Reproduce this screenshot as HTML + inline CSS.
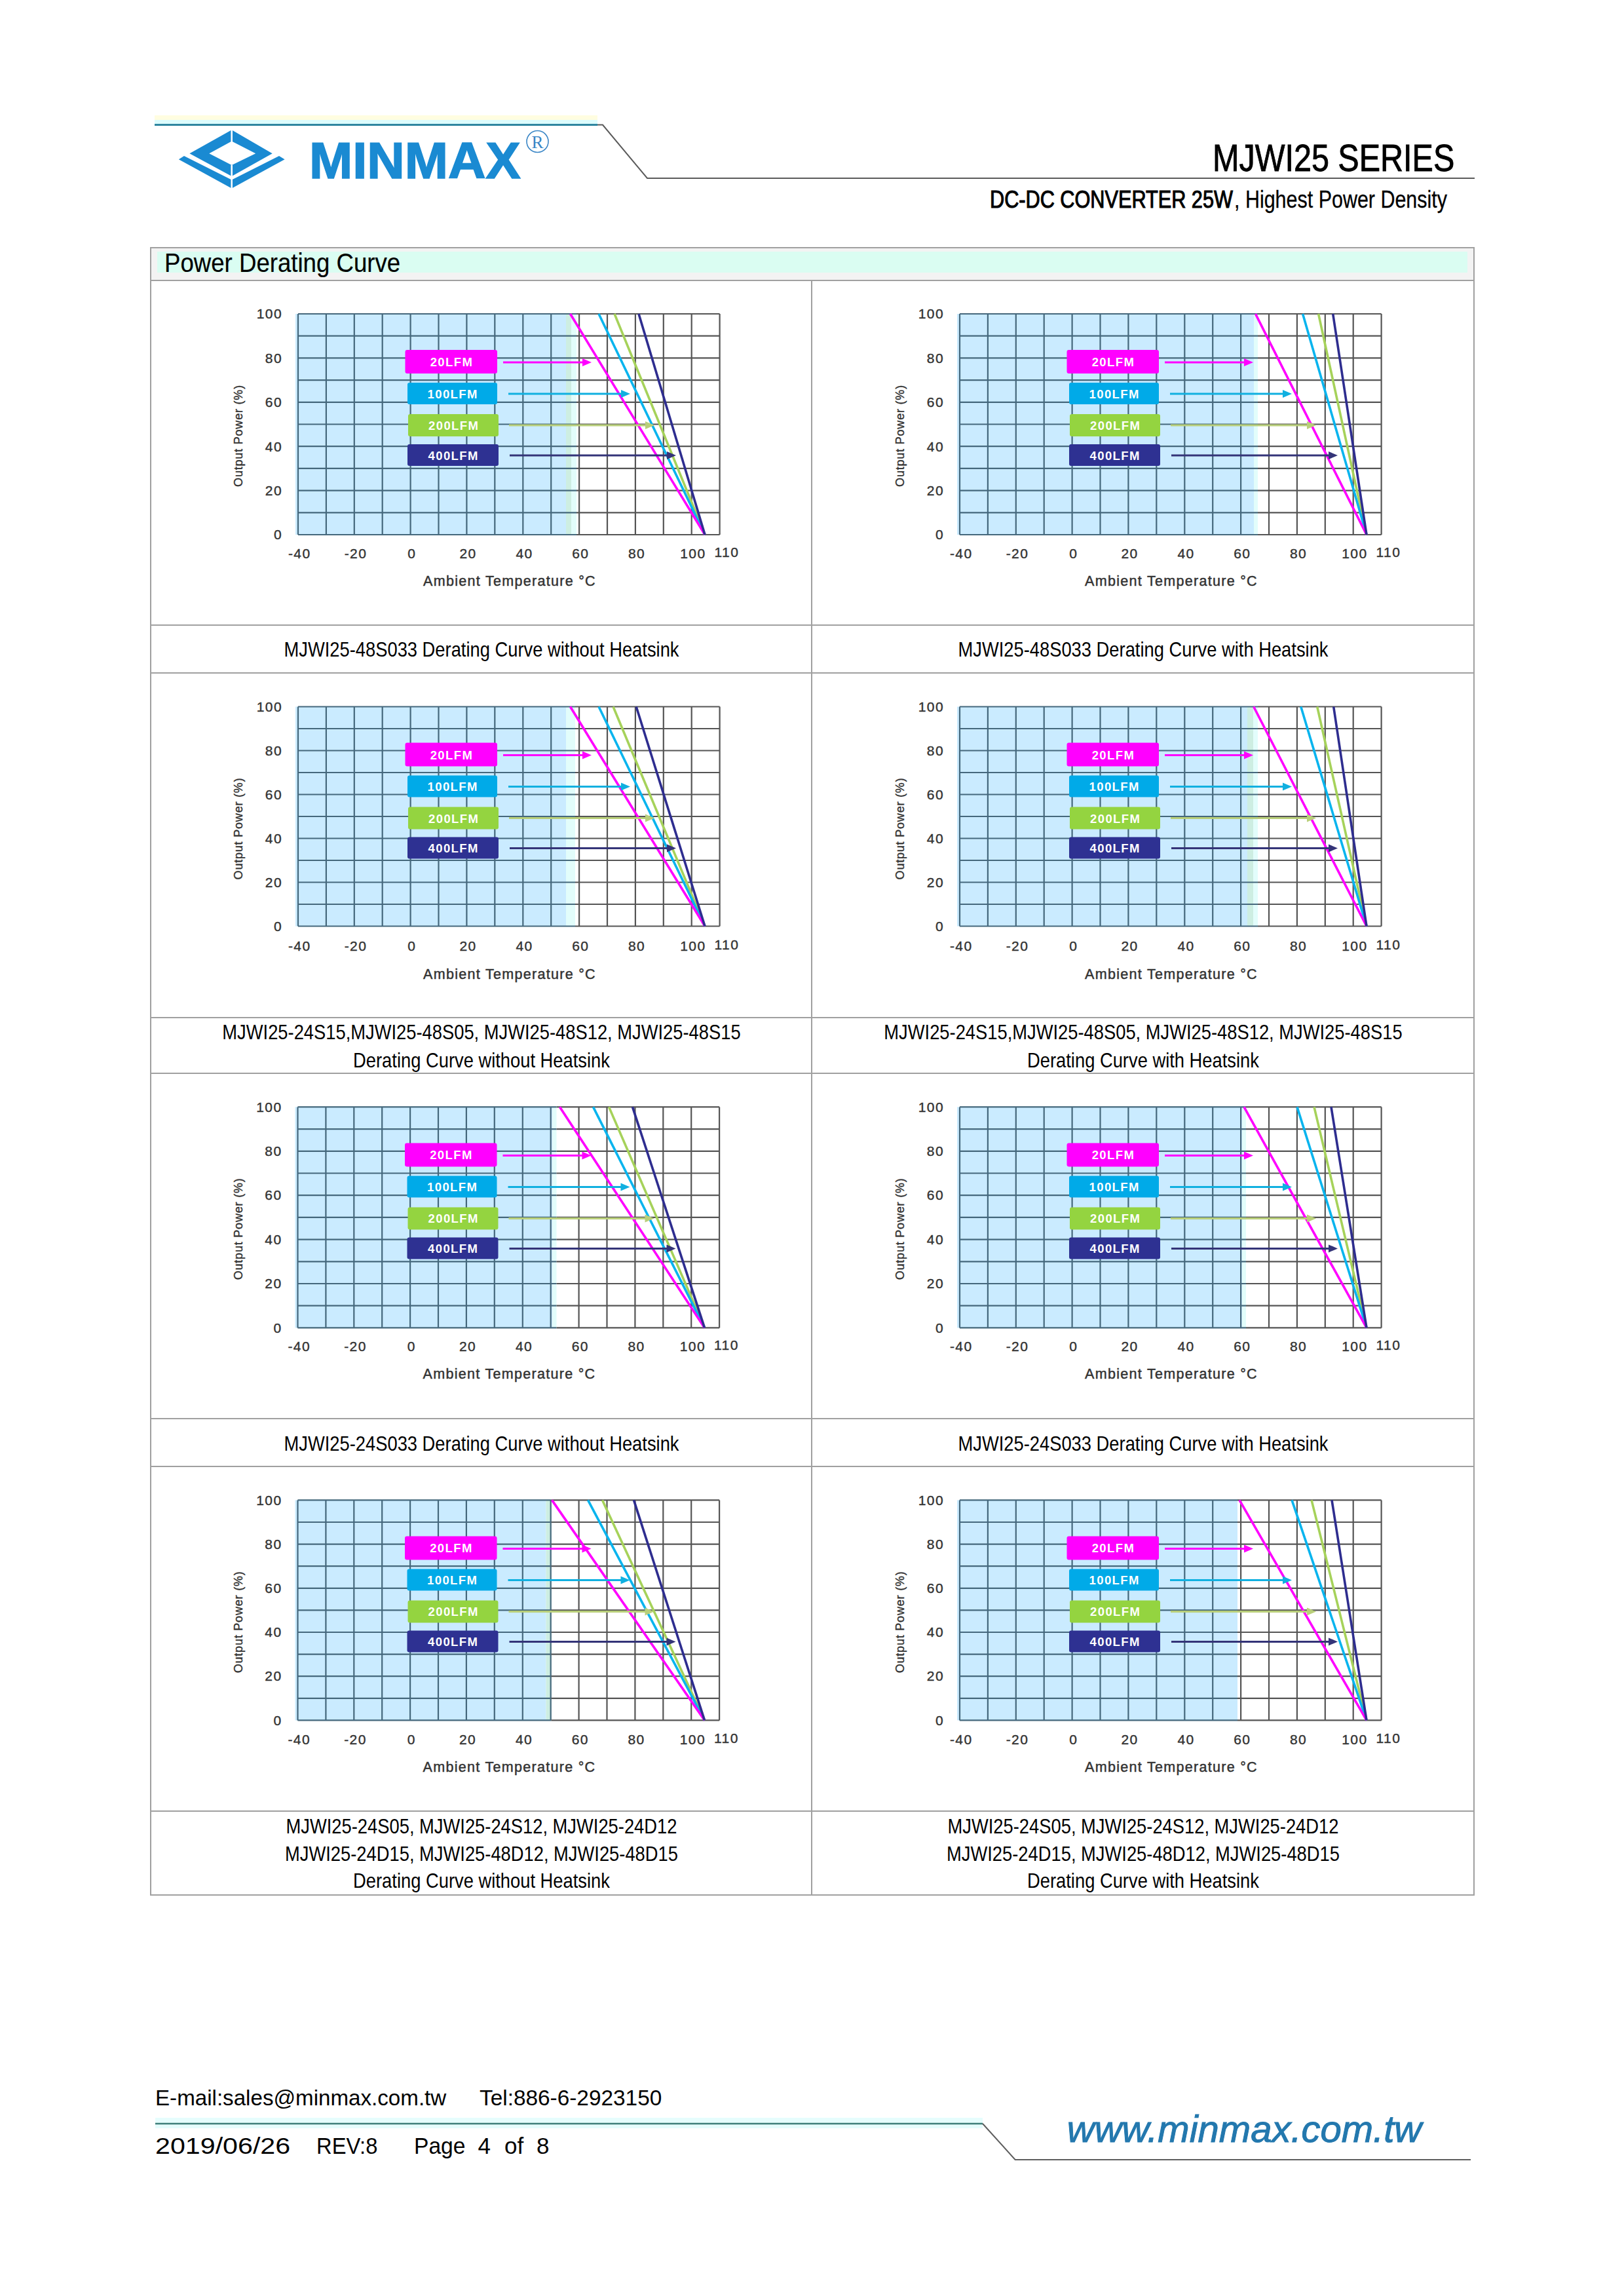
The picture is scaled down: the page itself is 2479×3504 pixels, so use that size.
<!DOCTYPE html>
<html><head><meta charset="utf-8"><style>
html,body{margin:0;padding:0;background:#fff;}
body{width:2479px;height:3504px;position:relative;overflow:hidden;font-family:"Liberation Sans",sans-serif;}
svg{position:absolute;left:0;top:0;}
</style></head><body>

<svg width="2479" height="3504" viewBox="0 0 2479 3504" style="position:absolute;left:0;top:0">
<rect x="236" y="176" width="676" height="7" fill="#fffde0"/>
<rect x="236" y="183" width="676" height="6" fill="#dcfcfd"/>
<line x1="236" y1="190.5" x2="912" y2="190.5" stroke="#2f86a0" stroke-width="3"/>
<polyline points="912,190.5 920,190.5 988,272 2251,272" fill="none" stroke="#5a5a5a" stroke-width="2"/>
<path fill-rule="evenodd" fill="#1a8ad2" d="M353.7,198.3 L415.7,234.3 L353.7,269 L289.4,234.3 Z M353.7,215.5 L319.3,234.3 L353.7,252 L390.2,234.3 Z"/>
<path fill="#1a8ad2" d="M272.8,243.2 L281,238 L353.7,274.5 L426,238 L434.6,243.2 L353.7,287.5 Z"/>
<line x1="353.7" y1="196" x2="353.7" y2="216" stroke="#fff" stroke-width="2.5"/>
<line x1="353.7" y1="252" x2="353.7" y2="290" stroke="#fff" stroke-width="2.5"/>
<circle cx="820.5" cy="216" r="16.5" fill="none" stroke="#3a86c6" stroke-width="1.6"/>
<text x="820.5" y="226" font-family="Liberation Serif" font-size="27" fill="#3a86c6" text-anchor="middle">R</text>
<rect x="229" y="377" width="2022" height="2" fill="#a0a0a0"/>
<rect x="229" y="427" width="2022" height="2" fill="#a0a0a0"/>
<rect x="229" y="953" width="2022" height="2" fill="#a0a0a0"/>
<rect x="229" y="1026" width="2022" height="2" fill="#a0a0a0"/>
<rect x="229" y="1552" width="2022" height="2" fill="#a0a0a0"/>
<rect x="229" y="1637" width="2022" height="2" fill="#a0a0a0"/>
<rect x="229" y="2164" width="2022" height="2" fill="#a0a0a0"/>
<rect x="229" y="2237" width="2022" height="2" fill="#a0a0a0"/>
<rect x="229" y="2763" width="2022" height="2" fill="#a0a0a0"/>
<rect x="229" y="2891" width="2022" height="2" fill="#a0a0a0"/>
<rect x="229" y="377" width="2" height="2516" fill="#a0a0a0"/>
<rect x="2249" y="377" width="2" height="2516" fill="#a0a0a0"/>
<rect x="1238" y="427" width="2" height="2466" fill="#a0a0a0"/>
<rect x="231" y="379" width="2018" height="48" fill="#f3f3f3"/>
<rect x="240" y="384" width="2000" height="32" fill="#dafdf2"/>
<rect x="237" y="3232" width="1263" height="16" fill="#e6fdfd"/>
<line x1="237" y1="3241" x2="1500" y2="3241" stroke="#3f7f7a" stroke-width="2.5"/>
<polyline points="1500,3241 1549.6,3296 2245,3296" fill="none" stroke="#5e5e5e" stroke-width="2"/>
<g transform="translate(455.0,479.0)">
<rect x="-4" y="0" width="413" height="337.0" fill="#caebff"/>
<rect x="409" y="0" width="8" height="337.0" fill="#cdeee2"/>
<rect x="417" y="0" width="8" height="337.0" fill="#e2fdfb"/>
<line x1="0.0" y1="0" x2="0.0" y2="337.0" stroke="#45687c" stroke-width="2.2"/>
<line x1="42.9" y1="0" x2="42.9" y2="337.0" stroke="#45687c" stroke-width="2.2"/>
<line x1="85.8" y1="0" x2="85.8" y2="337.0" stroke="#45687c" stroke-width="2.2"/>
<line x1="128.7" y1="0" x2="128.7" y2="337.0" stroke="#45687c" stroke-width="2.2"/>
<line x1="171.6" y1="0" x2="171.6" y2="337.0" stroke="#45687c" stroke-width="2.2"/>
<line x1="214.5" y1="0" x2="214.5" y2="337.0" stroke="#45687c" stroke-width="2.2"/>
<line x1="257.4" y1="0" x2="257.4" y2="337.0" stroke="#45687c" stroke-width="2.2"/>
<line x1="300.3" y1="0" x2="300.3" y2="337.0" stroke="#45687c" stroke-width="2.2"/>
<line x1="343.3" y1="0" x2="343.3" y2="337.0" stroke="#45687c" stroke-width="2.2"/>
<line x1="386.2" y1="0" x2="386.2" y2="337.0" stroke="#45687c" stroke-width="2.2"/>
<line x1="429.1" y1="0" x2="429.1" y2="337.0" stroke="#555" stroke-width="2.2"/>
<line x1="472.0" y1="0" x2="472.0" y2="337.0" stroke="#555" stroke-width="2.2"/>
<line x1="514.9" y1="0" x2="514.9" y2="337.0" stroke="#555" stroke-width="2.2"/>
<line x1="557.8" y1="0" x2="557.8" y2="337.0" stroke="#555" stroke-width="2.2"/>
<line x1="600.7" y1="0" x2="600.7" y2="337.0" stroke="#555" stroke-width="2.2"/>
<line x1="643.6" y1="0" x2="643.6" y2="337.0" stroke="#555" stroke-width="2.2"/>
<line x1="0" y1="0.0" x2="425" y2="0.0" stroke="#45687c" stroke-width="2.2"/>
<line x1="425" y1="0.0" x2="643.6" y2="0.0" stroke="#555" stroke-width="2.2"/>
<line x1="0" y1="33.7" x2="425" y2="33.7" stroke="#45687c" stroke-width="2.2"/>
<line x1="425" y1="33.7" x2="643.6" y2="33.7" stroke="#555" stroke-width="2.2"/>
<line x1="0" y1="67.4" x2="425" y2="67.4" stroke="#45687c" stroke-width="2.2"/>
<line x1="425" y1="67.4" x2="643.6" y2="67.4" stroke="#555" stroke-width="2.2"/>
<line x1="0" y1="101.1" x2="425" y2="101.1" stroke="#45687c" stroke-width="2.2"/>
<line x1="425" y1="101.1" x2="643.6" y2="101.1" stroke="#555" stroke-width="2.2"/>
<line x1="0" y1="134.8" x2="425" y2="134.8" stroke="#45687c" stroke-width="2.2"/>
<line x1="425" y1="134.8" x2="643.6" y2="134.8" stroke="#555" stroke-width="2.2"/>
<line x1="0" y1="168.5" x2="425" y2="168.5" stroke="#45687c" stroke-width="2.2"/>
<line x1="425" y1="168.5" x2="643.6" y2="168.5" stroke="#555" stroke-width="2.2"/>
<line x1="0" y1="202.2" x2="425" y2="202.2" stroke="#45687c" stroke-width="2.2"/>
<line x1="425" y1="202.2" x2="643.6" y2="202.2" stroke="#555" stroke-width="2.2"/>
<line x1="0" y1="235.9" x2="425" y2="235.9" stroke="#45687c" stroke-width="2.2"/>
<line x1="425" y1="235.9" x2="643.6" y2="235.9" stroke="#555" stroke-width="2.2"/>
<line x1="0" y1="269.6" x2="425" y2="269.6" stroke="#45687c" stroke-width="2.2"/>
<line x1="425" y1="269.6" x2="643.6" y2="269.6" stroke="#555" stroke-width="2.2"/>
<line x1="0" y1="303.3" x2="425" y2="303.3" stroke="#45687c" stroke-width="2.2"/>
<line x1="425" y1="303.3" x2="643.6" y2="303.3" stroke="#555" stroke-width="2.2"/>
<line x1="0" y1="337.0" x2="425" y2="337.0" stroke="#45687c" stroke-width="2.2"/>
<line x1="425" y1="337.0" x2="643.6" y2="337.0" stroke="#555" stroke-width="2.2"/>
<line x1="483" y1="0" x2="621" y2="337.0" stroke="#a6d25a" stroke-width="3.6"/>
<line x1="459" y1="0" x2="621" y2="337.0" stroke="#08b4ee" stroke-width="3.6"/>
<line x1="415.5" y1="0" x2="621" y2="337.0" stroke="#ff00ff" stroke-width="3.6"/>
<line x1="520" y1="0" x2="621" y2="337.0" stroke="#2e2d8f" stroke-width="3.6"/>
<rect x="163.5" y="55" width="140.5" height="36" rx="3" fill="#ff00ff"/>
<text x="234.45" y="80.0" font-family="Liberation Sans" font-weight="bold" font-size="18.5" fill="#fff" text-anchor="middle" letter-spacing="1.4">20LFM</text>
<line x1="313" y1="74" x2="438" y2="74" stroke="#ff00ff" stroke-width="3"/>
<path d="M448,74 L434,68 L434,80 Z" fill="#ff00ff"/>
<rect x="167" y="105" width="137" height="33" rx="3" fill="#00aae8"/>
<text x="236.2" y="128.5" font-family="Liberation Sans" font-weight="bold" font-size="18.5" fill="#fff" text-anchor="middle" letter-spacing="1.4">100LFM</text>
<line x1="321" y1="122" x2="497" y2="122" stroke="#10b0e0" stroke-width="3"/>
<path d="M507,122 L493,116 L493,128 Z" fill="#10b0e0"/>
<rect x="168" y="153" width="138" height="34" rx="3" fill="#94d440"/>
<text x="237.7" y="177.0" font-family="Liberation Sans" font-weight="bold" font-size="18.5" fill="#fff" text-anchor="middle" letter-spacing="1.4">200LFM</text>
<line x1="322" y1="170" x2="534" y2="170" stroke="#b9cf7a" stroke-width="3"/>
<path d="M544,170 L530,164 L530,176 Z" fill="#b9cf7a"/>
<rect x="167" y="199" width="139" height="33" rx="3" fill="#2e3192"/>
<text x="237.2" y="222.5" font-family="Liberation Sans" font-weight="bold" font-size="18.5" fill="#fff" text-anchor="middle" letter-spacing="1.4">400LFM</text>
<line x1="323" y1="216" x2="567" y2="216" stroke="#343478" stroke-width="3"/>
<path d="M577,216 L563,210 L563,222 Z" fill="#343478"/>
<text x="-24" y="344.3" font-family="Liberation Sans" font-size="21" fill="#333" stroke="#333" stroke-width="0.4" text-anchor="end" letter-spacing="1.4">0</text>
<text x="-24" y="276.9" font-family="Liberation Sans" font-size="21" fill="#333" stroke="#333" stroke-width="0.4" text-anchor="end" letter-spacing="1.4">20</text>
<text x="-24" y="209.5" font-family="Liberation Sans" font-size="21" fill="#333" stroke="#333" stroke-width="0.4" text-anchor="end" letter-spacing="1.4">40</text>
<text x="-24" y="142.1" font-family="Liberation Sans" font-size="21" fill="#333" stroke="#333" stroke-width="0.4" text-anchor="end" letter-spacing="1.4">60</text>
<text x="-24" y="74.7" font-family="Liberation Sans" font-size="21" fill="#333" stroke="#333" stroke-width="0.4" text-anchor="end" letter-spacing="1.4">80</text>
<text x="-24" y="7.3" font-family="Liberation Sans" font-size="21" fill="#333" stroke="#333" stroke-width="0.4" text-anchor="end" letter-spacing="1.4">100</text>
<text x="2.2" y="372.5" font-family="Liberation Sans" font-size="21" fill="#333" stroke="#333" stroke-width="0.4" text-anchor="middle" letter-spacing="1.4">-40</text>
<text x="88.0" y="372.5" font-family="Liberation Sans" font-size="21" fill="#333" stroke="#333" stroke-width="0.4" text-anchor="middle" letter-spacing="1.4">-20</text>
<text x="173.8" y="372.5" font-family="Liberation Sans" font-size="21" fill="#333" stroke="#333" stroke-width="0.4" text-anchor="middle" letter-spacing="1.4">0</text>
<text x="259.6" y="372.5" font-family="Liberation Sans" font-size="21" fill="#333" stroke="#333" stroke-width="0.4" text-anchor="middle" letter-spacing="1.4">20</text>
<text x="345.5" y="372.5" font-family="Liberation Sans" font-size="21" fill="#333" stroke="#333" stroke-width="0.4" text-anchor="middle" letter-spacing="1.4">40</text>
<text x="431.3" y="372.5" font-family="Liberation Sans" font-size="21" fill="#333" stroke="#333" stroke-width="0.4" text-anchor="middle" letter-spacing="1.4">60</text>
<text x="517.1" y="372.5" font-family="Liberation Sans" font-size="21" fill="#333" stroke="#333" stroke-width="0.4" text-anchor="middle" letter-spacing="1.4">80</text>
<text x="602.9" y="372.5" font-family="Liberation Sans" font-size="21" fill="#333" stroke="#333" stroke-width="0.4" text-anchor="middle" letter-spacing="1.4">100</text>
<text x="654.4" y="370.5" font-family="Liberation Sans" font-size="21" fill="#333" stroke="#333" stroke-width="0.4" text-anchor="middle" letter-spacing="1.4">110</text>
<text x="323" y="415.0" font-family="Liberation Sans" font-size="21.5" fill="#333" stroke="#333" stroke-width="0.5" text-anchor="middle" letter-spacing="1.3">Ambient Temperature °C</text>
<text transform="translate(-85,186) rotate(-90)" x="0" y="0" font-family="Liberation Sans" font-size="18" fill="#333" stroke="#333" stroke-width="0.4" text-anchor="middle" letter-spacing="0.8">Output Power (%)</text>
</g>
<g transform="translate(1465.0,479.0)">
<rect x="-4" y="0" width="453" height="337.0" fill="#caebff"/>
<rect x="449" y="0" width="6" height="337.0" fill="#e2fdfb"/>
<line x1="0.0" y1="0" x2="0.0" y2="337.0" stroke="#45687c" stroke-width="2.2"/>
<line x1="42.9" y1="0" x2="42.9" y2="337.0" stroke="#45687c" stroke-width="2.2"/>
<line x1="85.8" y1="0" x2="85.8" y2="337.0" stroke="#45687c" stroke-width="2.2"/>
<line x1="128.7" y1="0" x2="128.7" y2="337.0" stroke="#45687c" stroke-width="2.2"/>
<line x1="171.6" y1="0" x2="171.6" y2="337.0" stroke="#45687c" stroke-width="2.2"/>
<line x1="214.5" y1="0" x2="214.5" y2="337.0" stroke="#45687c" stroke-width="2.2"/>
<line x1="257.4" y1="0" x2="257.4" y2="337.0" stroke="#45687c" stroke-width="2.2"/>
<line x1="300.3" y1="0" x2="300.3" y2="337.0" stroke="#45687c" stroke-width="2.2"/>
<line x1="343.3" y1="0" x2="343.3" y2="337.0" stroke="#45687c" stroke-width="2.2"/>
<line x1="386.2" y1="0" x2="386.2" y2="337.0" stroke="#45687c" stroke-width="2.2"/>
<line x1="429.1" y1="0" x2="429.1" y2="337.0" stroke="#45687c" stroke-width="2.2"/>
<line x1="472.0" y1="0" x2="472.0" y2="337.0" stroke="#555" stroke-width="2.2"/>
<line x1="514.9" y1="0" x2="514.9" y2="337.0" stroke="#555" stroke-width="2.2"/>
<line x1="557.8" y1="0" x2="557.8" y2="337.0" stroke="#555" stroke-width="2.2"/>
<line x1="600.7" y1="0" x2="600.7" y2="337.0" stroke="#555" stroke-width="2.2"/>
<line x1="643.6" y1="0" x2="643.6" y2="337.0" stroke="#555" stroke-width="2.2"/>
<line x1="0" y1="0.0" x2="455" y2="0.0" stroke="#45687c" stroke-width="2.2"/>
<line x1="455" y1="0.0" x2="643.6" y2="0.0" stroke="#555" stroke-width="2.2"/>
<line x1="0" y1="33.7" x2="455" y2="33.7" stroke="#45687c" stroke-width="2.2"/>
<line x1="455" y1="33.7" x2="643.6" y2="33.7" stroke="#555" stroke-width="2.2"/>
<line x1="0" y1="67.4" x2="455" y2="67.4" stroke="#45687c" stroke-width="2.2"/>
<line x1="455" y1="67.4" x2="643.6" y2="67.4" stroke="#555" stroke-width="2.2"/>
<line x1="0" y1="101.1" x2="455" y2="101.1" stroke="#45687c" stroke-width="2.2"/>
<line x1="455" y1="101.1" x2="643.6" y2="101.1" stroke="#555" stroke-width="2.2"/>
<line x1="0" y1="134.8" x2="455" y2="134.8" stroke="#45687c" stroke-width="2.2"/>
<line x1="455" y1="134.8" x2="643.6" y2="134.8" stroke="#555" stroke-width="2.2"/>
<line x1="0" y1="168.5" x2="455" y2="168.5" stroke="#45687c" stroke-width="2.2"/>
<line x1="455" y1="168.5" x2="643.6" y2="168.5" stroke="#555" stroke-width="2.2"/>
<line x1="0" y1="202.2" x2="455" y2="202.2" stroke="#45687c" stroke-width="2.2"/>
<line x1="455" y1="202.2" x2="643.6" y2="202.2" stroke="#555" stroke-width="2.2"/>
<line x1="0" y1="235.9" x2="455" y2="235.9" stroke="#45687c" stroke-width="2.2"/>
<line x1="455" y1="235.9" x2="643.6" y2="235.9" stroke="#555" stroke-width="2.2"/>
<line x1="0" y1="269.6" x2="455" y2="269.6" stroke="#45687c" stroke-width="2.2"/>
<line x1="455" y1="269.6" x2="643.6" y2="269.6" stroke="#555" stroke-width="2.2"/>
<line x1="0" y1="303.3" x2="455" y2="303.3" stroke="#45687c" stroke-width="2.2"/>
<line x1="455" y1="303.3" x2="643.6" y2="303.3" stroke="#555" stroke-width="2.2"/>
<line x1="0" y1="337.0" x2="455" y2="337.0" stroke="#45687c" stroke-width="2.2"/>
<line x1="455" y1="337.0" x2="643.6" y2="337.0" stroke="#555" stroke-width="2.2"/>
<line x1="547.6" y1="0" x2="621" y2="337.0" stroke="#a6d25a" stroke-width="3.6"/>
<line x1="523.6" y1="0" x2="621" y2="337.0" stroke="#08b4ee" stroke-width="3.6"/>
<line x1="451.5" y1="0" x2="621" y2="337.0" stroke="#ff00ff" stroke-width="3.6"/>
<line x1="569.7" y1="0" x2="621" y2="337.0" stroke="#2e2d8f" stroke-width="3.6"/>
<rect x="163.5" y="55" width="140.5" height="36" rx="3" fill="#ff00ff"/>
<text x="234.45" y="80.0" font-family="Liberation Sans" font-weight="bold" font-size="18.5" fill="#fff" text-anchor="middle" letter-spacing="1.4">20LFM</text>
<line x1="313" y1="74" x2="438" y2="74" stroke="#ff00ff" stroke-width="3"/>
<path d="M448,74 L434,68 L434,80 Z" fill="#ff00ff"/>
<rect x="167" y="105" width="137" height="33" rx="3" fill="#00aae8"/>
<text x="236.2" y="128.5" font-family="Liberation Sans" font-weight="bold" font-size="18.5" fill="#fff" text-anchor="middle" letter-spacing="1.4">100LFM</text>
<line x1="321" y1="122" x2="497" y2="122" stroke="#10b0e0" stroke-width="3"/>
<path d="M507,122 L493,116 L493,128 Z" fill="#10b0e0"/>
<rect x="168" y="153" width="138" height="34" rx="3" fill="#94d440"/>
<text x="237.7" y="177.0" font-family="Liberation Sans" font-weight="bold" font-size="18.5" fill="#fff" text-anchor="middle" letter-spacing="1.4">200LFM</text>
<line x1="322" y1="170" x2="534" y2="170" stroke="#b9cf7a" stroke-width="3"/>
<path d="M544,170 L530,164 L530,176 Z" fill="#b9cf7a"/>
<rect x="167" y="199" width="139" height="33" rx="3" fill="#2e3192"/>
<text x="237.2" y="222.5" font-family="Liberation Sans" font-weight="bold" font-size="18.5" fill="#fff" text-anchor="middle" letter-spacing="1.4">400LFM</text>
<line x1="323" y1="216" x2="567" y2="216" stroke="#343478" stroke-width="3"/>
<path d="M577,216 L563,210 L563,222 Z" fill="#343478"/>
<text x="-24" y="344.3" font-family="Liberation Sans" font-size="21" fill="#333" stroke="#333" stroke-width="0.4" text-anchor="end" letter-spacing="1.4">0</text>
<text x="-24" y="276.9" font-family="Liberation Sans" font-size="21" fill="#333" stroke="#333" stroke-width="0.4" text-anchor="end" letter-spacing="1.4">20</text>
<text x="-24" y="209.5" font-family="Liberation Sans" font-size="21" fill="#333" stroke="#333" stroke-width="0.4" text-anchor="end" letter-spacing="1.4">40</text>
<text x="-24" y="142.1" font-family="Liberation Sans" font-size="21" fill="#333" stroke="#333" stroke-width="0.4" text-anchor="end" letter-spacing="1.4">60</text>
<text x="-24" y="74.7" font-family="Liberation Sans" font-size="21" fill="#333" stroke="#333" stroke-width="0.4" text-anchor="end" letter-spacing="1.4">80</text>
<text x="-24" y="7.3" font-family="Liberation Sans" font-size="21" fill="#333" stroke="#333" stroke-width="0.4" text-anchor="end" letter-spacing="1.4">100</text>
<text x="2.2" y="372.5" font-family="Liberation Sans" font-size="21" fill="#333" stroke="#333" stroke-width="0.4" text-anchor="middle" letter-spacing="1.4">-40</text>
<text x="88.0" y="372.5" font-family="Liberation Sans" font-size="21" fill="#333" stroke="#333" stroke-width="0.4" text-anchor="middle" letter-spacing="1.4">-20</text>
<text x="173.8" y="372.5" font-family="Liberation Sans" font-size="21" fill="#333" stroke="#333" stroke-width="0.4" text-anchor="middle" letter-spacing="1.4">0</text>
<text x="259.6" y="372.5" font-family="Liberation Sans" font-size="21" fill="#333" stroke="#333" stroke-width="0.4" text-anchor="middle" letter-spacing="1.4">20</text>
<text x="345.5" y="372.5" font-family="Liberation Sans" font-size="21" fill="#333" stroke="#333" stroke-width="0.4" text-anchor="middle" letter-spacing="1.4">40</text>
<text x="431.3" y="372.5" font-family="Liberation Sans" font-size="21" fill="#333" stroke="#333" stroke-width="0.4" text-anchor="middle" letter-spacing="1.4">60</text>
<text x="517.1" y="372.5" font-family="Liberation Sans" font-size="21" fill="#333" stroke="#333" stroke-width="0.4" text-anchor="middle" letter-spacing="1.4">80</text>
<text x="602.9" y="372.5" font-family="Liberation Sans" font-size="21" fill="#333" stroke="#333" stroke-width="0.4" text-anchor="middle" letter-spacing="1.4">100</text>
<text x="654.4" y="370.5" font-family="Liberation Sans" font-size="21" fill="#333" stroke="#333" stroke-width="0.4" text-anchor="middle" letter-spacing="1.4">110</text>
<text x="323" y="415.0" font-family="Liberation Sans" font-size="21.5" fill="#333" stroke="#333" stroke-width="0.5" text-anchor="middle" letter-spacing="1.3">Ambient Temperature °C</text>
<text transform="translate(-85,186) rotate(-90)" x="0" y="0" font-family="Liberation Sans" font-size="18" fill="#333" stroke="#333" stroke-width="0.4" text-anchor="middle" letter-spacing="0.8">Output Power (%)</text>
</g>
<g transform="translate(455.0,1078.5)">
<rect x="-4" y="0" width="413" height="335.0" fill="#caebff"/>
<rect x="409" y="0" width="14" height="335.0" fill="#e2fdfb"/>
<line x1="0.0" y1="0" x2="0.0" y2="335.0" stroke="#45687c" stroke-width="2.2"/>
<line x1="42.9" y1="0" x2="42.9" y2="335.0" stroke="#45687c" stroke-width="2.2"/>
<line x1="85.8" y1="0" x2="85.8" y2="335.0" stroke="#45687c" stroke-width="2.2"/>
<line x1="128.7" y1="0" x2="128.7" y2="335.0" stroke="#45687c" stroke-width="2.2"/>
<line x1="171.6" y1="0" x2="171.6" y2="335.0" stroke="#45687c" stroke-width="2.2"/>
<line x1="214.5" y1="0" x2="214.5" y2="335.0" stroke="#45687c" stroke-width="2.2"/>
<line x1="257.4" y1="0" x2="257.4" y2="335.0" stroke="#45687c" stroke-width="2.2"/>
<line x1="300.3" y1="0" x2="300.3" y2="335.0" stroke="#45687c" stroke-width="2.2"/>
<line x1="343.3" y1="0" x2="343.3" y2="335.0" stroke="#45687c" stroke-width="2.2"/>
<line x1="386.2" y1="0" x2="386.2" y2="335.0" stroke="#45687c" stroke-width="2.2"/>
<line x1="429.1" y1="0" x2="429.1" y2="335.0" stroke="#555" stroke-width="2.2"/>
<line x1="472.0" y1="0" x2="472.0" y2="335.0" stroke="#555" stroke-width="2.2"/>
<line x1="514.9" y1="0" x2="514.9" y2="335.0" stroke="#555" stroke-width="2.2"/>
<line x1="557.8" y1="0" x2="557.8" y2="335.0" stroke="#555" stroke-width="2.2"/>
<line x1="600.7" y1="0" x2="600.7" y2="335.0" stroke="#555" stroke-width="2.2"/>
<line x1="643.6" y1="0" x2="643.6" y2="335.0" stroke="#555" stroke-width="2.2"/>
<line x1="0" y1="0.0" x2="423" y2="0.0" stroke="#45687c" stroke-width="2.2"/>
<line x1="423" y1="0.0" x2="643.6" y2="0.0" stroke="#555" stroke-width="2.2"/>
<line x1="0" y1="33.5" x2="423" y2="33.5" stroke="#45687c" stroke-width="2.2"/>
<line x1="423" y1="33.5" x2="643.6" y2="33.5" stroke="#555" stroke-width="2.2"/>
<line x1="0" y1="67.0" x2="423" y2="67.0" stroke="#45687c" stroke-width="2.2"/>
<line x1="423" y1="67.0" x2="643.6" y2="67.0" stroke="#555" stroke-width="2.2"/>
<line x1="0" y1="100.5" x2="423" y2="100.5" stroke="#45687c" stroke-width="2.2"/>
<line x1="423" y1="100.5" x2="643.6" y2="100.5" stroke="#555" stroke-width="2.2"/>
<line x1="0" y1="134.0" x2="423" y2="134.0" stroke="#45687c" stroke-width="2.2"/>
<line x1="423" y1="134.0" x2="643.6" y2="134.0" stroke="#555" stroke-width="2.2"/>
<line x1="0" y1="167.5" x2="423" y2="167.5" stroke="#45687c" stroke-width="2.2"/>
<line x1="423" y1="167.5" x2="643.6" y2="167.5" stroke="#555" stroke-width="2.2"/>
<line x1="0" y1="201.0" x2="423" y2="201.0" stroke="#45687c" stroke-width="2.2"/>
<line x1="423" y1="201.0" x2="643.6" y2="201.0" stroke="#555" stroke-width="2.2"/>
<line x1="0" y1="234.5" x2="423" y2="234.5" stroke="#45687c" stroke-width="2.2"/>
<line x1="423" y1="234.5" x2="643.6" y2="234.5" stroke="#555" stroke-width="2.2"/>
<line x1="0" y1="268.0" x2="423" y2="268.0" stroke="#45687c" stroke-width="2.2"/>
<line x1="423" y1="268.0" x2="643.6" y2="268.0" stroke="#555" stroke-width="2.2"/>
<line x1="0" y1="301.5" x2="423" y2="301.5" stroke="#45687c" stroke-width="2.2"/>
<line x1="423" y1="301.5" x2="643.6" y2="301.5" stroke="#555" stroke-width="2.2"/>
<line x1="0" y1="335.0" x2="423" y2="335.0" stroke="#45687c" stroke-width="2.2"/>
<line x1="423" y1="335.0" x2="643.6" y2="335.0" stroke="#555" stroke-width="2.2"/>
<line x1="481" y1="0" x2="621" y2="335.0" stroke="#a6d25a" stroke-width="3.6"/>
<line x1="459" y1="0" x2="621" y2="335.0" stroke="#08b4ee" stroke-width="3.6"/>
<line x1="415.5" y1="0" x2="621" y2="335.0" stroke="#ff00ff" stroke-width="3.6"/>
<line x1="516.2" y1="0" x2="621" y2="335.0" stroke="#2e2d8f" stroke-width="3.6"/>
<rect x="163.5" y="55" width="140.5" height="36" rx="3" fill="#ff00ff"/>
<text x="234.45" y="80.0" font-family="Liberation Sans" font-weight="bold" font-size="18.5" fill="#fff" text-anchor="middle" letter-spacing="1.4">20LFM</text>
<line x1="313" y1="74" x2="438" y2="74" stroke="#ff00ff" stroke-width="3"/>
<path d="M448,74 L434,68 L434,80 Z" fill="#ff00ff"/>
<rect x="167" y="105" width="137" height="33" rx="3" fill="#00aae8"/>
<text x="236.2" y="128.5" font-family="Liberation Sans" font-weight="bold" font-size="18.5" fill="#fff" text-anchor="middle" letter-spacing="1.4">100LFM</text>
<line x1="321" y1="122" x2="497" y2="122" stroke="#10b0e0" stroke-width="3"/>
<path d="M507,122 L493,116 L493,128 Z" fill="#10b0e0"/>
<rect x="168" y="153" width="138" height="34" rx="3" fill="#94d440"/>
<text x="237.7" y="177.0" font-family="Liberation Sans" font-weight="bold" font-size="18.5" fill="#fff" text-anchor="middle" letter-spacing="1.4">200LFM</text>
<line x1="322" y1="170" x2="534" y2="170" stroke="#b9cf7a" stroke-width="3"/>
<path d="M544,170 L530,164 L530,176 Z" fill="#b9cf7a"/>
<rect x="167" y="199" width="139" height="33" rx="3" fill="#2e3192"/>
<text x="237.2" y="222.5" font-family="Liberation Sans" font-weight="bold" font-size="18.5" fill="#fff" text-anchor="middle" letter-spacing="1.4">400LFM</text>
<line x1="323" y1="216" x2="567" y2="216" stroke="#343478" stroke-width="3"/>
<path d="M577,216 L563,210 L563,222 Z" fill="#343478"/>
<text x="-24" y="342.3" font-family="Liberation Sans" font-size="21" fill="#333" stroke="#333" stroke-width="0.4" text-anchor="end" letter-spacing="1.4">0</text>
<text x="-24" y="275.3" font-family="Liberation Sans" font-size="21" fill="#333" stroke="#333" stroke-width="0.4" text-anchor="end" letter-spacing="1.4">20</text>
<text x="-24" y="208.3" font-family="Liberation Sans" font-size="21" fill="#333" stroke="#333" stroke-width="0.4" text-anchor="end" letter-spacing="1.4">40</text>
<text x="-24" y="141.3" font-family="Liberation Sans" font-size="21" fill="#333" stroke="#333" stroke-width="0.4" text-anchor="end" letter-spacing="1.4">60</text>
<text x="-24" y="74.3" font-family="Liberation Sans" font-size="21" fill="#333" stroke="#333" stroke-width="0.4" text-anchor="end" letter-spacing="1.4">80</text>
<text x="-24" y="7.3" font-family="Liberation Sans" font-size="21" fill="#333" stroke="#333" stroke-width="0.4" text-anchor="end" letter-spacing="1.4">100</text>
<text x="2.2" y="372.5" font-family="Liberation Sans" font-size="21" fill="#333" stroke="#333" stroke-width="0.4" text-anchor="middle" letter-spacing="1.4">-40</text>
<text x="88.0" y="372.5" font-family="Liberation Sans" font-size="21" fill="#333" stroke="#333" stroke-width="0.4" text-anchor="middle" letter-spacing="1.4">-20</text>
<text x="173.8" y="372.5" font-family="Liberation Sans" font-size="21" fill="#333" stroke="#333" stroke-width="0.4" text-anchor="middle" letter-spacing="1.4">0</text>
<text x="259.6" y="372.5" font-family="Liberation Sans" font-size="21" fill="#333" stroke="#333" stroke-width="0.4" text-anchor="middle" letter-spacing="1.4">20</text>
<text x="345.5" y="372.5" font-family="Liberation Sans" font-size="21" fill="#333" stroke="#333" stroke-width="0.4" text-anchor="middle" letter-spacing="1.4">40</text>
<text x="431.3" y="372.5" font-family="Liberation Sans" font-size="21" fill="#333" stroke="#333" stroke-width="0.4" text-anchor="middle" letter-spacing="1.4">60</text>
<text x="517.1" y="372.5" font-family="Liberation Sans" font-size="21" fill="#333" stroke="#333" stroke-width="0.4" text-anchor="middle" letter-spacing="1.4">80</text>
<text x="602.9" y="372.5" font-family="Liberation Sans" font-size="21" fill="#333" stroke="#333" stroke-width="0.4" text-anchor="middle" letter-spacing="1.4">100</text>
<text x="654.4" y="370.5" font-family="Liberation Sans" font-size="21" fill="#333" stroke="#333" stroke-width="0.4" text-anchor="middle" letter-spacing="1.4">110</text>
<text x="323" y="415.0" font-family="Liberation Sans" font-size="21.5" fill="#333" stroke="#333" stroke-width="0.5" text-anchor="middle" letter-spacing="1.3">Ambient Temperature °C</text>
<text transform="translate(-85,186) rotate(-90)" x="0" y="0" font-family="Liberation Sans" font-size="18" fill="#333" stroke="#333" stroke-width="0.4" text-anchor="middle" letter-spacing="0.8">Output Power (%)</text>
</g>
<g transform="translate(1465.0,1078.5)">
<rect x="-4" y="0" width="443" height="335.0" fill="#caebff"/>
<rect x="439" y="0" width="9" height="335.0" fill="#cdeee2"/>
<rect x="448" y="0" width="7" height="335.0" fill="#e2fdfb"/>
<line x1="0.0" y1="0" x2="0.0" y2="335.0" stroke="#45687c" stroke-width="2.2"/>
<line x1="42.9" y1="0" x2="42.9" y2="335.0" stroke="#45687c" stroke-width="2.2"/>
<line x1="85.8" y1="0" x2="85.8" y2="335.0" stroke="#45687c" stroke-width="2.2"/>
<line x1="128.7" y1="0" x2="128.7" y2="335.0" stroke="#45687c" stroke-width="2.2"/>
<line x1="171.6" y1="0" x2="171.6" y2="335.0" stroke="#45687c" stroke-width="2.2"/>
<line x1="214.5" y1="0" x2="214.5" y2="335.0" stroke="#45687c" stroke-width="2.2"/>
<line x1="257.4" y1="0" x2="257.4" y2="335.0" stroke="#45687c" stroke-width="2.2"/>
<line x1="300.3" y1="0" x2="300.3" y2="335.0" stroke="#45687c" stroke-width="2.2"/>
<line x1="343.3" y1="0" x2="343.3" y2="335.0" stroke="#45687c" stroke-width="2.2"/>
<line x1="386.2" y1="0" x2="386.2" y2="335.0" stroke="#45687c" stroke-width="2.2"/>
<line x1="429.1" y1="0" x2="429.1" y2="335.0" stroke="#45687c" stroke-width="2.2"/>
<line x1="472.0" y1="0" x2="472.0" y2="335.0" stroke="#555" stroke-width="2.2"/>
<line x1="514.9" y1="0" x2="514.9" y2="335.0" stroke="#555" stroke-width="2.2"/>
<line x1="557.8" y1="0" x2="557.8" y2="335.0" stroke="#555" stroke-width="2.2"/>
<line x1="600.7" y1="0" x2="600.7" y2="335.0" stroke="#555" stroke-width="2.2"/>
<line x1="643.6" y1="0" x2="643.6" y2="335.0" stroke="#555" stroke-width="2.2"/>
<line x1="0" y1="0.0" x2="455" y2="0.0" stroke="#45687c" stroke-width="2.2"/>
<line x1="455" y1="0.0" x2="643.6" y2="0.0" stroke="#555" stroke-width="2.2"/>
<line x1="0" y1="33.5" x2="455" y2="33.5" stroke="#45687c" stroke-width="2.2"/>
<line x1="455" y1="33.5" x2="643.6" y2="33.5" stroke="#555" stroke-width="2.2"/>
<line x1="0" y1="67.0" x2="455" y2="67.0" stroke="#45687c" stroke-width="2.2"/>
<line x1="455" y1="67.0" x2="643.6" y2="67.0" stroke="#555" stroke-width="2.2"/>
<line x1="0" y1="100.5" x2="455" y2="100.5" stroke="#45687c" stroke-width="2.2"/>
<line x1="455" y1="100.5" x2="643.6" y2="100.5" stroke="#555" stroke-width="2.2"/>
<line x1="0" y1="134.0" x2="455" y2="134.0" stroke="#45687c" stroke-width="2.2"/>
<line x1="455" y1="134.0" x2="643.6" y2="134.0" stroke="#555" stroke-width="2.2"/>
<line x1="0" y1="167.5" x2="455" y2="167.5" stroke="#45687c" stroke-width="2.2"/>
<line x1="455" y1="167.5" x2="643.6" y2="167.5" stroke="#555" stroke-width="2.2"/>
<line x1="0" y1="201.0" x2="455" y2="201.0" stroke="#45687c" stroke-width="2.2"/>
<line x1="455" y1="201.0" x2="643.6" y2="201.0" stroke="#555" stroke-width="2.2"/>
<line x1="0" y1="234.5" x2="455" y2="234.5" stroke="#45687c" stroke-width="2.2"/>
<line x1="455" y1="234.5" x2="643.6" y2="234.5" stroke="#555" stroke-width="2.2"/>
<line x1="0" y1="268.0" x2="455" y2="268.0" stroke="#45687c" stroke-width="2.2"/>
<line x1="455" y1="268.0" x2="643.6" y2="268.0" stroke="#555" stroke-width="2.2"/>
<line x1="0" y1="301.5" x2="455" y2="301.5" stroke="#45687c" stroke-width="2.2"/>
<line x1="455" y1="301.5" x2="643.6" y2="301.5" stroke="#555" stroke-width="2.2"/>
<line x1="0" y1="335.0" x2="455" y2="335.0" stroke="#45687c" stroke-width="2.2"/>
<line x1="455" y1="335.0" x2="643.6" y2="335.0" stroke="#555" stroke-width="2.2"/>
<line x1="545.7" y1="0" x2="621" y2="335.0" stroke="#a6d25a" stroke-width="3.6"/>
<line x1="520.8" y1="0" x2="621" y2="335.0" stroke="#08b4ee" stroke-width="3.6"/>
<line x1="448.7" y1="0" x2="621" y2="335.0" stroke="#ff00ff" stroke-width="3.6"/>
<line x1="570.7" y1="0" x2="621" y2="335.0" stroke="#2e2d8f" stroke-width="3.6"/>
<rect x="163.5" y="55" width="140.5" height="36" rx="3" fill="#ff00ff"/>
<text x="234.45" y="80.0" font-family="Liberation Sans" font-weight="bold" font-size="18.5" fill="#fff" text-anchor="middle" letter-spacing="1.4">20LFM</text>
<line x1="313" y1="74" x2="438" y2="74" stroke="#ff00ff" stroke-width="3"/>
<path d="M448,74 L434,68 L434,80 Z" fill="#ff00ff"/>
<rect x="167" y="105" width="137" height="33" rx="3" fill="#00aae8"/>
<text x="236.2" y="128.5" font-family="Liberation Sans" font-weight="bold" font-size="18.5" fill="#fff" text-anchor="middle" letter-spacing="1.4">100LFM</text>
<line x1="321" y1="122" x2="497" y2="122" stroke="#10b0e0" stroke-width="3"/>
<path d="M507,122 L493,116 L493,128 Z" fill="#10b0e0"/>
<rect x="168" y="153" width="138" height="34" rx="3" fill="#94d440"/>
<text x="237.7" y="177.0" font-family="Liberation Sans" font-weight="bold" font-size="18.5" fill="#fff" text-anchor="middle" letter-spacing="1.4">200LFM</text>
<line x1="322" y1="170" x2="534" y2="170" stroke="#b9cf7a" stroke-width="3"/>
<path d="M544,170 L530,164 L530,176 Z" fill="#b9cf7a"/>
<rect x="167" y="199" width="139" height="33" rx="3" fill="#2e3192"/>
<text x="237.2" y="222.5" font-family="Liberation Sans" font-weight="bold" font-size="18.5" fill="#fff" text-anchor="middle" letter-spacing="1.4">400LFM</text>
<line x1="323" y1="216" x2="567" y2="216" stroke="#343478" stroke-width="3"/>
<path d="M577,216 L563,210 L563,222 Z" fill="#343478"/>
<text x="-24" y="342.3" font-family="Liberation Sans" font-size="21" fill="#333" stroke="#333" stroke-width="0.4" text-anchor="end" letter-spacing="1.4">0</text>
<text x="-24" y="275.3" font-family="Liberation Sans" font-size="21" fill="#333" stroke="#333" stroke-width="0.4" text-anchor="end" letter-spacing="1.4">20</text>
<text x="-24" y="208.3" font-family="Liberation Sans" font-size="21" fill="#333" stroke="#333" stroke-width="0.4" text-anchor="end" letter-spacing="1.4">40</text>
<text x="-24" y="141.3" font-family="Liberation Sans" font-size="21" fill="#333" stroke="#333" stroke-width="0.4" text-anchor="end" letter-spacing="1.4">60</text>
<text x="-24" y="74.3" font-family="Liberation Sans" font-size="21" fill="#333" stroke="#333" stroke-width="0.4" text-anchor="end" letter-spacing="1.4">80</text>
<text x="-24" y="7.3" font-family="Liberation Sans" font-size="21" fill="#333" stroke="#333" stroke-width="0.4" text-anchor="end" letter-spacing="1.4">100</text>
<text x="2.2" y="372.5" font-family="Liberation Sans" font-size="21" fill="#333" stroke="#333" stroke-width="0.4" text-anchor="middle" letter-spacing="1.4">-40</text>
<text x="88.0" y="372.5" font-family="Liberation Sans" font-size="21" fill="#333" stroke="#333" stroke-width="0.4" text-anchor="middle" letter-spacing="1.4">-20</text>
<text x="173.8" y="372.5" font-family="Liberation Sans" font-size="21" fill="#333" stroke="#333" stroke-width="0.4" text-anchor="middle" letter-spacing="1.4">0</text>
<text x="259.6" y="372.5" font-family="Liberation Sans" font-size="21" fill="#333" stroke="#333" stroke-width="0.4" text-anchor="middle" letter-spacing="1.4">20</text>
<text x="345.5" y="372.5" font-family="Liberation Sans" font-size="21" fill="#333" stroke="#333" stroke-width="0.4" text-anchor="middle" letter-spacing="1.4">40</text>
<text x="431.3" y="372.5" font-family="Liberation Sans" font-size="21" fill="#333" stroke="#333" stroke-width="0.4" text-anchor="middle" letter-spacing="1.4">60</text>
<text x="517.1" y="372.5" font-family="Liberation Sans" font-size="21" fill="#333" stroke="#333" stroke-width="0.4" text-anchor="middle" letter-spacing="1.4">80</text>
<text x="602.9" y="372.5" font-family="Liberation Sans" font-size="21" fill="#333" stroke="#333" stroke-width="0.4" text-anchor="middle" letter-spacing="1.4">100</text>
<text x="654.4" y="370.5" font-family="Liberation Sans" font-size="21" fill="#333" stroke="#333" stroke-width="0.4" text-anchor="middle" letter-spacing="1.4">110</text>
<text x="323" y="415.0" font-family="Liberation Sans" font-size="21.5" fill="#333" stroke="#333" stroke-width="0.5" text-anchor="middle" letter-spacing="1.3">Ambient Temperature °C</text>
<text transform="translate(-85,186) rotate(-90)" x="0" y="0" font-family="Liberation Sans" font-size="18" fill="#333" stroke="#333" stroke-width="0.4" text-anchor="middle" letter-spacing="0.8">Output Power (%)</text>
</g>
<g transform="translate(454.5,1689.4)">
<rect x="-4" y="0" width="393" height="337.0" fill="#caebff"/>
<rect x="389" y="0" width="6" height="337.0" fill="#e2fdfb"/>
<line x1="0.0" y1="0" x2="0.0" y2="337.0" stroke="#45687c" stroke-width="2.2"/>
<line x1="42.9" y1="0" x2="42.9" y2="337.0" stroke="#45687c" stroke-width="2.2"/>
<line x1="85.8" y1="0" x2="85.8" y2="337.0" stroke="#45687c" stroke-width="2.2"/>
<line x1="128.7" y1="0" x2="128.7" y2="337.0" stroke="#45687c" stroke-width="2.2"/>
<line x1="171.6" y1="0" x2="171.6" y2="337.0" stroke="#45687c" stroke-width="2.2"/>
<line x1="214.5" y1="0" x2="214.5" y2="337.0" stroke="#45687c" stroke-width="2.2"/>
<line x1="257.4" y1="0" x2="257.4" y2="337.0" stroke="#45687c" stroke-width="2.2"/>
<line x1="300.3" y1="0" x2="300.3" y2="337.0" stroke="#45687c" stroke-width="2.2"/>
<line x1="343.3" y1="0" x2="343.3" y2="337.0" stroke="#45687c" stroke-width="2.2"/>
<line x1="386.2" y1="0" x2="386.2" y2="337.0" stroke="#45687c" stroke-width="2.2"/>
<line x1="429.1" y1="0" x2="429.1" y2="337.0" stroke="#555" stroke-width="2.2"/>
<line x1="472.0" y1="0" x2="472.0" y2="337.0" stroke="#555" stroke-width="2.2"/>
<line x1="514.9" y1="0" x2="514.9" y2="337.0" stroke="#555" stroke-width="2.2"/>
<line x1="557.8" y1="0" x2="557.8" y2="337.0" stroke="#555" stroke-width="2.2"/>
<line x1="600.7" y1="0" x2="600.7" y2="337.0" stroke="#555" stroke-width="2.2"/>
<line x1="643.6" y1="0" x2="643.6" y2="337.0" stroke="#555" stroke-width="2.2"/>
<line x1="0" y1="0.0" x2="395" y2="0.0" stroke="#45687c" stroke-width="2.2"/>
<line x1="395" y1="0.0" x2="643.6" y2="0.0" stroke="#555" stroke-width="2.2"/>
<line x1="0" y1="33.7" x2="395" y2="33.7" stroke="#45687c" stroke-width="2.2"/>
<line x1="395" y1="33.7" x2="643.6" y2="33.7" stroke="#555" stroke-width="2.2"/>
<line x1="0" y1="67.4" x2="395" y2="67.4" stroke="#45687c" stroke-width="2.2"/>
<line x1="395" y1="67.4" x2="643.6" y2="67.4" stroke="#555" stroke-width="2.2"/>
<line x1="0" y1="101.1" x2="395" y2="101.1" stroke="#45687c" stroke-width="2.2"/>
<line x1="395" y1="101.1" x2="643.6" y2="101.1" stroke="#555" stroke-width="2.2"/>
<line x1="0" y1="134.8" x2="395" y2="134.8" stroke="#45687c" stroke-width="2.2"/>
<line x1="395" y1="134.8" x2="643.6" y2="134.8" stroke="#555" stroke-width="2.2"/>
<line x1="0" y1="168.5" x2="395" y2="168.5" stroke="#45687c" stroke-width="2.2"/>
<line x1="395" y1="168.5" x2="643.6" y2="168.5" stroke="#555" stroke-width="2.2"/>
<line x1="0" y1="202.2" x2="395" y2="202.2" stroke="#45687c" stroke-width="2.2"/>
<line x1="395" y1="202.2" x2="643.6" y2="202.2" stroke="#555" stroke-width="2.2"/>
<line x1="0" y1="235.9" x2="395" y2="235.9" stroke="#45687c" stroke-width="2.2"/>
<line x1="395" y1="235.9" x2="643.6" y2="235.9" stroke="#555" stroke-width="2.2"/>
<line x1="0" y1="269.6" x2="395" y2="269.6" stroke="#45687c" stroke-width="2.2"/>
<line x1="395" y1="269.6" x2="643.6" y2="269.6" stroke="#555" stroke-width="2.2"/>
<line x1="0" y1="303.3" x2="395" y2="303.3" stroke="#45687c" stroke-width="2.2"/>
<line x1="395" y1="303.3" x2="643.6" y2="303.3" stroke="#555" stroke-width="2.2"/>
<line x1="0" y1="337.0" x2="395" y2="337.0" stroke="#45687c" stroke-width="2.2"/>
<line x1="395" y1="337.0" x2="643.6" y2="337.0" stroke="#555" stroke-width="2.2"/>
<line x1="475" y1="0" x2="621" y2="337.0" stroke="#a6d25a" stroke-width="3.6"/>
<line x1="451" y1="0" x2="621" y2="337.0" stroke="#08b4ee" stroke-width="3.6"/>
<line x1="400" y1="0" x2="621" y2="337.0" stroke="#ff00ff" stroke-width="3.6"/>
<line x1="511" y1="0" x2="621" y2="337.0" stroke="#2e2d8f" stroke-width="3.6"/>
<rect x="163.5" y="55" width="140.5" height="36" rx="3" fill="#ff00ff"/>
<text x="234.45" y="80.0" font-family="Liberation Sans" font-weight="bold" font-size="18.5" fill="#fff" text-anchor="middle" letter-spacing="1.4">20LFM</text>
<line x1="313" y1="74" x2="438" y2="74" stroke="#ff00ff" stroke-width="3"/>
<path d="M448,74 L434,68 L434,80 Z" fill="#ff00ff"/>
<rect x="167" y="105" width="137" height="33" rx="3" fill="#00aae8"/>
<text x="236.2" y="128.5" font-family="Liberation Sans" font-weight="bold" font-size="18.5" fill="#fff" text-anchor="middle" letter-spacing="1.4">100LFM</text>
<line x1="321" y1="122" x2="497" y2="122" stroke="#10b0e0" stroke-width="3"/>
<path d="M507,122 L493,116 L493,128 Z" fill="#10b0e0"/>
<rect x="168" y="153" width="138" height="34" rx="3" fill="#94d440"/>
<text x="237.7" y="177.0" font-family="Liberation Sans" font-weight="bold" font-size="18.5" fill="#fff" text-anchor="middle" letter-spacing="1.4">200LFM</text>
<line x1="322" y1="170" x2="534" y2="170" stroke="#b9cf7a" stroke-width="3"/>
<path d="M544,170 L530,164 L530,176 Z" fill="#b9cf7a"/>
<rect x="167" y="199" width="139" height="33" rx="3" fill="#2e3192"/>
<text x="237.2" y="222.5" font-family="Liberation Sans" font-weight="bold" font-size="18.5" fill="#fff" text-anchor="middle" letter-spacing="1.4">400LFM</text>
<line x1="323" y1="216" x2="567" y2="216" stroke="#343478" stroke-width="3"/>
<path d="M577,216 L563,210 L563,222 Z" fill="#343478"/>
<text x="-24" y="344.3" font-family="Liberation Sans" font-size="21" fill="#333" stroke="#333" stroke-width="0.4" text-anchor="end" letter-spacing="1.4">0</text>
<text x="-24" y="276.9" font-family="Liberation Sans" font-size="21" fill="#333" stroke="#333" stroke-width="0.4" text-anchor="end" letter-spacing="1.4">20</text>
<text x="-24" y="209.5" font-family="Liberation Sans" font-size="21" fill="#333" stroke="#333" stroke-width="0.4" text-anchor="end" letter-spacing="1.4">40</text>
<text x="-24" y="142.1" font-family="Liberation Sans" font-size="21" fill="#333" stroke="#333" stroke-width="0.4" text-anchor="end" letter-spacing="1.4">60</text>
<text x="-24" y="74.7" font-family="Liberation Sans" font-size="21" fill="#333" stroke="#333" stroke-width="0.4" text-anchor="end" letter-spacing="1.4">80</text>
<text x="-24" y="7.3" font-family="Liberation Sans" font-size="21" fill="#333" stroke="#333" stroke-width="0.4" text-anchor="end" letter-spacing="1.4">100</text>
<text x="2.2" y="372.5" font-family="Liberation Sans" font-size="21" fill="#333" stroke="#333" stroke-width="0.4" text-anchor="middle" letter-spacing="1.4">-40</text>
<text x="88.0" y="372.5" font-family="Liberation Sans" font-size="21" fill="#333" stroke="#333" stroke-width="0.4" text-anchor="middle" letter-spacing="1.4">-20</text>
<text x="173.8" y="372.5" font-family="Liberation Sans" font-size="21" fill="#333" stroke="#333" stroke-width="0.4" text-anchor="middle" letter-spacing="1.4">0</text>
<text x="259.6" y="372.5" font-family="Liberation Sans" font-size="21" fill="#333" stroke="#333" stroke-width="0.4" text-anchor="middle" letter-spacing="1.4">20</text>
<text x="345.5" y="372.5" font-family="Liberation Sans" font-size="21" fill="#333" stroke="#333" stroke-width="0.4" text-anchor="middle" letter-spacing="1.4">40</text>
<text x="431.3" y="372.5" font-family="Liberation Sans" font-size="21" fill="#333" stroke="#333" stroke-width="0.4" text-anchor="middle" letter-spacing="1.4">60</text>
<text x="517.1" y="372.5" font-family="Liberation Sans" font-size="21" fill="#333" stroke="#333" stroke-width="0.4" text-anchor="middle" letter-spacing="1.4">80</text>
<text x="602.9" y="372.5" font-family="Liberation Sans" font-size="21" fill="#333" stroke="#333" stroke-width="0.4" text-anchor="middle" letter-spacing="1.4">100</text>
<text x="654.4" y="370.5" font-family="Liberation Sans" font-size="21" fill="#333" stroke="#333" stroke-width="0.4" text-anchor="middle" letter-spacing="1.4">110</text>
<text x="323" y="415.0" font-family="Liberation Sans" font-size="21.5" fill="#333" stroke="#333" stroke-width="0.5" text-anchor="middle" letter-spacing="1.3">Ambient Temperature °C</text>
<text transform="translate(-85,186) rotate(-90)" x="0" y="0" font-family="Liberation Sans" font-size="18" fill="#333" stroke="#333" stroke-width="0.4" text-anchor="middle" letter-spacing="0.8">Output Power (%)</text>
</g>
<g transform="translate(1465.0,1689.4)">
<rect x="-4" y="0" width="435" height="337.0" fill="#caebff"/>
<rect x="431" y="0" width="6" height="337.0" fill="#e2fdfb"/>
<line x1="0.0" y1="0" x2="0.0" y2="337.0" stroke="#45687c" stroke-width="2.2"/>
<line x1="42.9" y1="0" x2="42.9" y2="337.0" stroke="#45687c" stroke-width="2.2"/>
<line x1="85.8" y1="0" x2="85.8" y2="337.0" stroke="#45687c" stroke-width="2.2"/>
<line x1="128.7" y1="0" x2="128.7" y2="337.0" stroke="#45687c" stroke-width="2.2"/>
<line x1="171.6" y1="0" x2="171.6" y2="337.0" stroke="#45687c" stroke-width="2.2"/>
<line x1="214.5" y1="0" x2="214.5" y2="337.0" stroke="#45687c" stroke-width="2.2"/>
<line x1="257.4" y1="0" x2="257.4" y2="337.0" stroke="#45687c" stroke-width="2.2"/>
<line x1="300.3" y1="0" x2="300.3" y2="337.0" stroke="#45687c" stroke-width="2.2"/>
<line x1="343.3" y1="0" x2="343.3" y2="337.0" stroke="#45687c" stroke-width="2.2"/>
<line x1="386.2" y1="0" x2="386.2" y2="337.0" stroke="#45687c" stroke-width="2.2"/>
<line x1="429.1" y1="0" x2="429.1" y2="337.0" stroke="#45687c" stroke-width="2.2"/>
<line x1="472.0" y1="0" x2="472.0" y2="337.0" stroke="#555" stroke-width="2.2"/>
<line x1="514.9" y1="0" x2="514.9" y2="337.0" stroke="#555" stroke-width="2.2"/>
<line x1="557.8" y1="0" x2="557.8" y2="337.0" stroke="#555" stroke-width="2.2"/>
<line x1="600.7" y1="0" x2="600.7" y2="337.0" stroke="#555" stroke-width="2.2"/>
<line x1="643.6" y1="0" x2="643.6" y2="337.0" stroke="#555" stroke-width="2.2"/>
<line x1="0" y1="0.0" x2="437" y2="0.0" stroke="#45687c" stroke-width="2.2"/>
<line x1="437" y1="0.0" x2="643.6" y2="0.0" stroke="#555" stroke-width="2.2"/>
<line x1="0" y1="33.7" x2="437" y2="33.7" stroke="#45687c" stroke-width="2.2"/>
<line x1="437" y1="33.7" x2="643.6" y2="33.7" stroke="#555" stroke-width="2.2"/>
<line x1="0" y1="67.4" x2="437" y2="67.4" stroke="#45687c" stroke-width="2.2"/>
<line x1="437" y1="67.4" x2="643.6" y2="67.4" stroke="#555" stroke-width="2.2"/>
<line x1="0" y1="101.1" x2="437" y2="101.1" stroke="#45687c" stroke-width="2.2"/>
<line x1="437" y1="101.1" x2="643.6" y2="101.1" stroke="#555" stroke-width="2.2"/>
<line x1="0" y1="134.8" x2="437" y2="134.8" stroke="#45687c" stroke-width="2.2"/>
<line x1="437" y1="134.8" x2="643.6" y2="134.8" stroke="#555" stroke-width="2.2"/>
<line x1="0" y1="168.5" x2="437" y2="168.5" stroke="#45687c" stroke-width="2.2"/>
<line x1="437" y1="168.5" x2="643.6" y2="168.5" stroke="#555" stroke-width="2.2"/>
<line x1="0" y1="202.2" x2="437" y2="202.2" stroke="#45687c" stroke-width="2.2"/>
<line x1="437" y1="202.2" x2="643.6" y2="202.2" stroke="#555" stroke-width="2.2"/>
<line x1="0" y1="235.9" x2="437" y2="235.9" stroke="#45687c" stroke-width="2.2"/>
<line x1="437" y1="235.9" x2="643.6" y2="235.9" stroke="#555" stroke-width="2.2"/>
<line x1="0" y1="269.6" x2="437" y2="269.6" stroke="#45687c" stroke-width="2.2"/>
<line x1="437" y1="269.6" x2="643.6" y2="269.6" stroke="#555" stroke-width="2.2"/>
<line x1="0" y1="303.3" x2="437" y2="303.3" stroke="#45687c" stroke-width="2.2"/>
<line x1="437" y1="303.3" x2="643.6" y2="303.3" stroke="#555" stroke-width="2.2"/>
<line x1="0" y1="337.0" x2="437" y2="337.0" stroke="#45687c" stroke-width="2.2"/>
<line x1="437" y1="337.0" x2="643.6" y2="337.0" stroke="#555" stroke-width="2.2"/>
<line x1="541" y1="0" x2="621" y2="337.0" stroke="#a6d25a" stroke-width="3.6"/>
<line x1="515" y1="0" x2="621" y2="337.0" stroke="#08b4ee" stroke-width="3.6"/>
<line x1="434" y1="0" x2="621" y2="337.0" stroke="#ff00ff" stroke-width="3.6"/>
<line x1="567" y1="0" x2="621" y2="337.0" stroke="#2e2d8f" stroke-width="3.6"/>
<rect x="163.5" y="55" width="140.5" height="36" rx="3" fill="#ff00ff"/>
<text x="234.45" y="80.0" font-family="Liberation Sans" font-weight="bold" font-size="18.5" fill="#fff" text-anchor="middle" letter-spacing="1.4">20LFM</text>
<line x1="313" y1="74" x2="438" y2="74" stroke="#ff00ff" stroke-width="3"/>
<path d="M448,74 L434,68 L434,80 Z" fill="#ff00ff"/>
<rect x="167" y="105" width="137" height="33" rx="3" fill="#00aae8"/>
<text x="236.2" y="128.5" font-family="Liberation Sans" font-weight="bold" font-size="18.5" fill="#fff" text-anchor="middle" letter-spacing="1.4">100LFM</text>
<line x1="321" y1="122" x2="497" y2="122" stroke="#10b0e0" stroke-width="3"/>
<path d="M507,122 L493,116 L493,128 Z" fill="#10b0e0"/>
<rect x="168" y="153" width="138" height="34" rx="3" fill="#94d440"/>
<text x="237.7" y="177.0" font-family="Liberation Sans" font-weight="bold" font-size="18.5" fill="#fff" text-anchor="middle" letter-spacing="1.4">200LFM</text>
<line x1="322" y1="170" x2="534" y2="170" stroke="#b9cf7a" stroke-width="3"/>
<path d="M544,170 L530,164 L530,176 Z" fill="#b9cf7a"/>
<rect x="167" y="199" width="139" height="33" rx="3" fill="#2e3192"/>
<text x="237.2" y="222.5" font-family="Liberation Sans" font-weight="bold" font-size="18.5" fill="#fff" text-anchor="middle" letter-spacing="1.4">400LFM</text>
<line x1="323" y1="216" x2="567" y2="216" stroke="#343478" stroke-width="3"/>
<path d="M577,216 L563,210 L563,222 Z" fill="#343478"/>
<text x="-24" y="344.3" font-family="Liberation Sans" font-size="21" fill="#333" stroke="#333" stroke-width="0.4" text-anchor="end" letter-spacing="1.4">0</text>
<text x="-24" y="276.9" font-family="Liberation Sans" font-size="21" fill="#333" stroke="#333" stroke-width="0.4" text-anchor="end" letter-spacing="1.4">20</text>
<text x="-24" y="209.5" font-family="Liberation Sans" font-size="21" fill="#333" stroke="#333" stroke-width="0.4" text-anchor="end" letter-spacing="1.4">40</text>
<text x="-24" y="142.1" font-family="Liberation Sans" font-size="21" fill="#333" stroke="#333" stroke-width="0.4" text-anchor="end" letter-spacing="1.4">60</text>
<text x="-24" y="74.7" font-family="Liberation Sans" font-size="21" fill="#333" stroke="#333" stroke-width="0.4" text-anchor="end" letter-spacing="1.4">80</text>
<text x="-24" y="7.3" font-family="Liberation Sans" font-size="21" fill="#333" stroke="#333" stroke-width="0.4" text-anchor="end" letter-spacing="1.4">100</text>
<text x="2.2" y="372.5" font-family="Liberation Sans" font-size="21" fill="#333" stroke="#333" stroke-width="0.4" text-anchor="middle" letter-spacing="1.4">-40</text>
<text x="88.0" y="372.5" font-family="Liberation Sans" font-size="21" fill="#333" stroke="#333" stroke-width="0.4" text-anchor="middle" letter-spacing="1.4">-20</text>
<text x="173.8" y="372.5" font-family="Liberation Sans" font-size="21" fill="#333" stroke="#333" stroke-width="0.4" text-anchor="middle" letter-spacing="1.4">0</text>
<text x="259.6" y="372.5" font-family="Liberation Sans" font-size="21" fill="#333" stroke="#333" stroke-width="0.4" text-anchor="middle" letter-spacing="1.4">20</text>
<text x="345.5" y="372.5" font-family="Liberation Sans" font-size="21" fill="#333" stroke="#333" stroke-width="0.4" text-anchor="middle" letter-spacing="1.4">40</text>
<text x="431.3" y="372.5" font-family="Liberation Sans" font-size="21" fill="#333" stroke="#333" stroke-width="0.4" text-anchor="middle" letter-spacing="1.4">60</text>
<text x="517.1" y="372.5" font-family="Liberation Sans" font-size="21" fill="#333" stroke="#333" stroke-width="0.4" text-anchor="middle" letter-spacing="1.4">80</text>
<text x="602.9" y="372.5" font-family="Liberation Sans" font-size="21" fill="#333" stroke="#333" stroke-width="0.4" text-anchor="middle" letter-spacing="1.4">100</text>
<text x="654.4" y="370.5" font-family="Liberation Sans" font-size="21" fill="#333" stroke="#333" stroke-width="0.4" text-anchor="middle" letter-spacing="1.4">110</text>
<text x="323" y="415.0" font-family="Liberation Sans" font-size="21.5" fill="#333" stroke="#333" stroke-width="0.5" text-anchor="middle" letter-spacing="1.3">Ambient Temperature °C</text>
<text transform="translate(-85,186) rotate(-90)" x="0" y="0" font-family="Liberation Sans" font-size="18" fill="#333" stroke="#333" stroke-width="0.4" text-anchor="middle" letter-spacing="0.8">Output Power (%)</text>
</g>
<g transform="translate(454.5,2289.4)">
<rect x="-4" y="0" width="383" height="336.0" fill="#caebff"/>
<rect x="379" y="0" width="8" height="336.0" fill="#cdeee2"/>
<line x1="0.0" y1="0" x2="0.0" y2="336.0" stroke="#45687c" stroke-width="2.2"/>
<line x1="42.9" y1="0" x2="42.9" y2="336.0" stroke="#45687c" stroke-width="2.2"/>
<line x1="85.8" y1="0" x2="85.8" y2="336.0" stroke="#45687c" stroke-width="2.2"/>
<line x1="128.7" y1="0" x2="128.7" y2="336.0" stroke="#45687c" stroke-width="2.2"/>
<line x1="171.6" y1="0" x2="171.6" y2="336.0" stroke="#45687c" stroke-width="2.2"/>
<line x1="214.5" y1="0" x2="214.5" y2="336.0" stroke="#45687c" stroke-width="2.2"/>
<line x1="257.4" y1="0" x2="257.4" y2="336.0" stroke="#45687c" stroke-width="2.2"/>
<line x1="300.3" y1="0" x2="300.3" y2="336.0" stroke="#45687c" stroke-width="2.2"/>
<line x1="343.3" y1="0" x2="343.3" y2="336.0" stroke="#45687c" stroke-width="2.2"/>
<line x1="386.2" y1="0" x2="386.2" y2="336.0" stroke="#45687c" stroke-width="2.2"/>
<line x1="429.1" y1="0" x2="429.1" y2="336.0" stroke="#555" stroke-width="2.2"/>
<line x1="472.0" y1="0" x2="472.0" y2="336.0" stroke="#555" stroke-width="2.2"/>
<line x1="514.9" y1="0" x2="514.9" y2="336.0" stroke="#555" stroke-width="2.2"/>
<line x1="557.8" y1="0" x2="557.8" y2="336.0" stroke="#555" stroke-width="2.2"/>
<line x1="600.7" y1="0" x2="600.7" y2="336.0" stroke="#555" stroke-width="2.2"/>
<line x1="643.6" y1="0" x2="643.6" y2="336.0" stroke="#555" stroke-width="2.2"/>
<line x1="0" y1="0.0" x2="387" y2="0.0" stroke="#45687c" stroke-width="2.2"/>
<line x1="387" y1="0.0" x2="643.6" y2="0.0" stroke="#555" stroke-width="2.2"/>
<line x1="0" y1="33.6" x2="387" y2="33.6" stroke="#45687c" stroke-width="2.2"/>
<line x1="387" y1="33.6" x2="643.6" y2="33.6" stroke="#555" stroke-width="2.2"/>
<line x1="0" y1="67.2" x2="387" y2="67.2" stroke="#45687c" stroke-width="2.2"/>
<line x1="387" y1="67.2" x2="643.6" y2="67.2" stroke="#555" stroke-width="2.2"/>
<line x1="0" y1="100.8" x2="387" y2="100.8" stroke="#45687c" stroke-width="2.2"/>
<line x1="387" y1="100.8" x2="643.6" y2="100.8" stroke="#555" stroke-width="2.2"/>
<line x1="0" y1="134.4" x2="387" y2="134.4" stroke="#45687c" stroke-width="2.2"/>
<line x1="387" y1="134.4" x2="643.6" y2="134.4" stroke="#555" stroke-width="2.2"/>
<line x1="0" y1="168.0" x2="387" y2="168.0" stroke="#45687c" stroke-width="2.2"/>
<line x1="387" y1="168.0" x2="643.6" y2="168.0" stroke="#555" stroke-width="2.2"/>
<line x1="0" y1="201.6" x2="387" y2="201.6" stroke="#45687c" stroke-width="2.2"/>
<line x1="387" y1="201.6" x2="643.6" y2="201.6" stroke="#555" stroke-width="2.2"/>
<line x1="0" y1="235.2" x2="387" y2="235.2" stroke="#45687c" stroke-width="2.2"/>
<line x1="387" y1="235.2" x2="643.6" y2="235.2" stroke="#555" stroke-width="2.2"/>
<line x1="0" y1="268.8" x2="387" y2="268.8" stroke="#45687c" stroke-width="2.2"/>
<line x1="387" y1="268.8" x2="643.6" y2="268.8" stroke="#555" stroke-width="2.2"/>
<line x1="0" y1="302.4" x2="387" y2="302.4" stroke="#45687c" stroke-width="2.2"/>
<line x1="387" y1="302.4" x2="643.6" y2="302.4" stroke="#555" stroke-width="2.2"/>
<line x1="0" y1="336.0" x2="387" y2="336.0" stroke="#45687c" stroke-width="2.2"/>
<line x1="387" y1="336.0" x2="643.6" y2="336.0" stroke="#555" stroke-width="2.2"/>
<line x1="465" y1="0" x2="621" y2="336.0" stroke="#a6d25a" stroke-width="3.6"/>
<line x1="443" y1="0" x2="621" y2="336.0" stroke="#08b4ee" stroke-width="3.6"/>
<line x1="388" y1="0" x2="621" y2="336.0" stroke="#ff00ff" stroke-width="3.6"/>
<line x1="513" y1="0" x2="621" y2="336.0" stroke="#2e2d8f" stroke-width="3.6"/>
<rect x="163.5" y="55" width="140.5" height="36" rx="3" fill="#ff00ff"/>
<text x="234.45" y="80.0" font-family="Liberation Sans" font-weight="bold" font-size="18.5" fill="#fff" text-anchor="middle" letter-spacing="1.4">20LFM</text>
<line x1="313" y1="74" x2="438" y2="74" stroke="#ff00ff" stroke-width="3"/>
<path d="M448,74 L434,68 L434,80 Z" fill="#ff00ff"/>
<rect x="167" y="105" width="137" height="33" rx="3" fill="#00aae8"/>
<text x="236.2" y="128.5" font-family="Liberation Sans" font-weight="bold" font-size="18.5" fill="#fff" text-anchor="middle" letter-spacing="1.4">100LFM</text>
<line x1="321" y1="122" x2="497" y2="122" stroke="#10b0e0" stroke-width="3"/>
<path d="M507,122 L493,116 L493,128 Z" fill="#10b0e0"/>
<rect x="168" y="153" width="138" height="34" rx="3" fill="#94d440"/>
<text x="237.7" y="177.0" font-family="Liberation Sans" font-weight="bold" font-size="18.5" fill="#fff" text-anchor="middle" letter-spacing="1.4">200LFM</text>
<line x1="322" y1="170" x2="534" y2="170" stroke="#b9cf7a" stroke-width="3"/>
<path d="M544,170 L530,164 L530,176 Z" fill="#b9cf7a"/>
<rect x="167" y="199" width="139" height="33" rx="3" fill="#2e3192"/>
<text x="237.2" y="222.5" font-family="Liberation Sans" font-weight="bold" font-size="18.5" fill="#fff" text-anchor="middle" letter-spacing="1.4">400LFM</text>
<line x1="323" y1="216" x2="567" y2="216" stroke="#343478" stroke-width="3"/>
<path d="M577,216 L563,210 L563,222 Z" fill="#343478"/>
<text x="-24" y="343.3" font-family="Liberation Sans" font-size="21" fill="#333" stroke="#333" stroke-width="0.4" text-anchor="end" letter-spacing="1.4">0</text>
<text x="-24" y="276.1" font-family="Liberation Sans" font-size="21" fill="#333" stroke="#333" stroke-width="0.4" text-anchor="end" letter-spacing="1.4">20</text>
<text x="-24" y="208.9" font-family="Liberation Sans" font-size="21" fill="#333" stroke="#333" stroke-width="0.4" text-anchor="end" letter-spacing="1.4">40</text>
<text x="-24" y="141.7" font-family="Liberation Sans" font-size="21" fill="#333" stroke="#333" stroke-width="0.4" text-anchor="end" letter-spacing="1.4">60</text>
<text x="-24" y="74.5" font-family="Liberation Sans" font-size="21" fill="#333" stroke="#333" stroke-width="0.4" text-anchor="end" letter-spacing="1.4">80</text>
<text x="-24" y="7.3" font-family="Liberation Sans" font-size="21" fill="#333" stroke="#333" stroke-width="0.4" text-anchor="end" letter-spacing="1.4">100</text>
<text x="2.2" y="372.5" font-family="Liberation Sans" font-size="21" fill="#333" stroke="#333" stroke-width="0.4" text-anchor="middle" letter-spacing="1.4">-40</text>
<text x="88.0" y="372.5" font-family="Liberation Sans" font-size="21" fill="#333" stroke="#333" stroke-width="0.4" text-anchor="middle" letter-spacing="1.4">-20</text>
<text x="173.8" y="372.5" font-family="Liberation Sans" font-size="21" fill="#333" stroke="#333" stroke-width="0.4" text-anchor="middle" letter-spacing="1.4">0</text>
<text x="259.6" y="372.5" font-family="Liberation Sans" font-size="21" fill="#333" stroke="#333" stroke-width="0.4" text-anchor="middle" letter-spacing="1.4">20</text>
<text x="345.5" y="372.5" font-family="Liberation Sans" font-size="21" fill="#333" stroke="#333" stroke-width="0.4" text-anchor="middle" letter-spacing="1.4">40</text>
<text x="431.3" y="372.5" font-family="Liberation Sans" font-size="21" fill="#333" stroke="#333" stroke-width="0.4" text-anchor="middle" letter-spacing="1.4">60</text>
<text x="517.1" y="372.5" font-family="Liberation Sans" font-size="21" fill="#333" stroke="#333" stroke-width="0.4" text-anchor="middle" letter-spacing="1.4">80</text>
<text x="602.9" y="372.5" font-family="Liberation Sans" font-size="21" fill="#333" stroke="#333" stroke-width="0.4" text-anchor="middle" letter-spacing="1.4">100</text>
<text x="654.4" y="370.5" font-family="Liberation Sans" font-size="21" fill="#333" stroke="#333" stroke-width="0.4" text-anchor="middle" letter-spacing="1.4">110</text>
<text x="323" y="415.0" font-family="Liberation Sans" font-size="21.5" fill="#333" stroke="#333" stroke-width="0.5" text-anchor="middle" letter-spacing="1.3">Ambient Temperature °C</text>
<text transform="translate(-85,186) rotate(-90)" x="0" y="0" font-family="Liberation Sans" font-size="18" fill="#333" stroke="#333" stroke-width="0.4" text-anchor="middle" letter-spacing="0.8">Output Power (%)</text>
</g>
<g transform="translate(1465.0,2289.4)">
<rect x="-4" y="0" width="428" height="336.0" fill="#caebff"/>
<line x1="0.0" y1="0" x2="0.0" y2="336.0" stroke="#45687c" stroke-width="2.2"/>
<line x1="42.9" y1="0" x2="42.9" y2="336.0" stroke="#45687c" stroke-width="2.2"/>
<line x1="85.8" y1="0" x2="85.8" y2="336.0" stroke="#45687c" stroke-width="2.2"/>
<line x1="128.7" y1="0" x2="128.7" y2="336.0" stroke="#45687c" stroke-width="2.2"/>
<line x1="171.6" y1="0" x2="171.6" y2="336.0" stroke="#45687c" stroke-width="2.2"/>
<line x1="214.5" y1="0" x2="214.5" y2="336.0" stroke="#45687c" stroke-width="2.2"/>
<line x1="257.4" y1="0" x2="257.4" y2="336.0" stroke="#45687c" stroke-width="2.2"/>
<line x1="300.3" y1="0" x2="300.3" y2="336.0" stroke="#45687c" stroke-width="2.2"/>
<line x1="343.3" y1="0" x2="343.3" y2="336.0" stroke="#45687c" stroke-width="2.2"/>
<line x1="386.2" y1="0" x2="386.2" y2="336.0" stroke="#45687c" stroke-width="2.2"/>
<line x1="429.1" y1="0" x2="429.1" y2="336.0" stroke="#555" stroke-width="2.2"/>
<line x1="472.0" y1="0" x2="472.0" y2="336.0" stroke="#555" stroke-width="2.2"/>
<line x1="514.9" y1="0" x2="514.9" y2="336.0" stroke="#555" stroke-width="2.2"/>
<line x1="557.8" y1="0" x2="557.8" y2="336.0" stroke="#555" stroke-width="2.2"/>
<line x1="600.7" y1="0" x2="600.7" y2="336.0" stroke="#555" stroke-width="2.2"/>
<line x1="643.6" y1="0" x2="643.6" y2="336.0" stroke="#555" stroke-width="2.2"/>
<line x1="0" y1="0.0" x2="424" y2="0.0" stroke="#45687c" stroke-width="2.2"/>
<line x1="424" y1="0.0" x2="643.6" y2="0.0" stroke="#555" stroke-width="2.2"/>
<line x1="0" y1="33.6" x2="424" y2="33.6" stroke="#45687c" stroke-width="2.2"/>
<line x1="424" y1="33.6" x2="643.6" y2="33.6" stroke="#555" stroke-width="2.2"/>
<line x1="0" y1="67.2" x2="424" y2="67.2" stroke="#45687c" stroke-width="2.2"/>
<line x1="424" y1="67.2" x2="643.6" y2="67.2" stroke="#555" stroke-width="2.2"/>
<line x1="0" y1="100.8" x2="424" y2="100.8" stroke="#45687c" stroke-width="2.2"/>
<line x1="424" y1="100.8" x2="643.6" y2="100.8" stroke="#555" stroke-width="2.2"/>
<line x1="0" y1="134.4" x2="424" y2="134.4" stroke="#45687c" stroke-width="2.2"/>
<line x1="424" y1="134.4" x2="643.6" y2="134.4" stroke="#555" stroke-width="2.2"/>
<line x1="0" y1="168.0" x2="424" y2="168.0" stroke="#45687c" stroke-width="2.2"/>
<line x1="424" y1="168.0" x2="643.6" y2="168.0" stroke="#555" stroke-width="2.2"/>
<line x1="0" y1="201.6" x2="424" y2="201.6" stroke="#45687c" stroke-width="2.2"/>
<line x1="424" y1="201.6" x2="643.6" y2="201.6" stroke="#555" stroke-width="2.2"/>
<line x1="0" y1="235.2" x2="424" y2="235.2" stroke="#45687c" stroke-width="2.2"/>
<line x1="424" y1="235.2" x2="643.6" y2="235.2" stroke="#555" stroke-width="2.2"/>
<line x1="0" y1="268.8" x2="424" y2="268.8" stroke="#45687c" stroke-width="2.2"/>
<line x1="424" y1="268.8" x2="643.6" y2="268.8" stroke="#555" stroke-width="2.2"/>
<line x1="0" y1="302.4" x2="424" y2="302.4" stroke="#45687c" stroke-width="2.2"/>
<line x1="424" y1="302.4" x2="643.6" y2="302.4" stroke="#555" stroke-width="2.2"/>
<line x1="0" y1="336.0" x2="424" y2="336.0" stroke="#45687c" stroke-width="2.2"/>
<line x1="424" y1="336.0" x2="643.6" y2="336.0" stroke="#555" stroke-width="2.2"/>
<line x1="537" y1="0" x2="621" y2="336.0" stroke="#a6d25a" stroke-width="3.6"/>
<line x1="507" y1="0" x2="621" y2="336.0" stroke="#08b4ee" stroke-width="3.6"/>
<line x1="427" y1="0" x2="621" y2="336.0" stroke="#ff00ff" stroke-width="3.6"/>
<line x1="568" y1="0" x2="621" y2="336.0" stroke="#2e2d8f" stroke-width="3.6"/>
<rect x="163.5" y="55" width="140.5" height="36" rx="3" fill="#ff00ff"/>
<text x="234.45" y="80.0" font-family="Liberation Sans" font-weight="bold" font-size="18.5" fill="#fff" text-anchor="middle" letter-spacing="1.4">20LFM</text>
<line x1="313" y1="74" x2="438" y2="74" stroke="#ff00ff" stroke-width="3"/>
<path d="M448,74 L434,68 L434,80 Z" fill="#ff00ff"/>
<rect x="167" y="105" width="137" height="33" rx="3" fill="#00aae8"/>
<text x="236.2" y="128.5" font-family="Liberation Sans" font-weight="bold" font-size="18.5" fill="#fff" text-anchor="middle" letter-spacing="1.4">100LFM</text>
<line x1="321" y1="122" x2="497" y2="122" stroke="#10b0e0" stroke-width="3"/>
<path d="M507,122 L493,116 L493,128 Z" fill="#10b0e0"/>
<rect x="168" y="153" width="138" height="34" rx="3" fill="#94d440"/>
<text x="237.7" y="177.0" font-family="Liberation Sans" font-weight="bold" font-size="18.5" fill="#fff" text-anchor="middle" letter-spacing="1.4">200LFM</text>
<line x1="322" y1="170" x2="534" y2="170" stroke="#b9cf7a" stroke-width="3"/>
<path d="M544,170 L530,164 L530,176 Z" fill="#b9cf7a"/>
<rect x="167" y="199" width="139" height="33" rx="3" fill="#2e3192"/>
<text x="237.2" y="222.5" font-family="Liberation Sans" font-weight="bold" font-size="18.5" fill="#fff" text-anchor="middle" letter-spacing="1.4">400LFM</text>
<line x1="323" y1="216" x2="567" y2="216" stroke="#343478" stroke-width="3"/>
<path d="M577,216 L563,210 L563,222 Z" fill="#343478"/>
<text x="-24" y="343.3" font-family="Liberation Sans" font-size="21" fill="#333" stroke="#333" stroke-width="0.4" text-anchor="end" letter-spacing="1.4">0</text>
<text x="-24" y="276.1" font-family="Liberation Sans" font-size="21" fill="#333" stroke="#333" stroke-width="0.4" text-anchor="end" letter-spacing="1.4">20</text>
<text x="-24" y="208.9" font-family="Liberation Sans" font-size="21" fill="#333" stroke="#333" stroke-width="0.4" text-anchor="end" letter-spacing="1.4">40</text>
<text x="-24" y="141.7" font-family="Liberation Sans" font-size="21" fill="#333" stroke="#333" stroke-width="0.4" text-anchor="end" letter-spacing="1.4">60</text>
<text x="-24" y="74.5" font-family="Liberation Sans" font-size="21" fill="#333" stroke="#333" stroke-width="0.4" text-anchor="end" letter-spacing="1.4">80</text>
<text x="-24" y="7.3" font-family="Liberation Sans" font-size="21" fill="#333" stroke="#333" stroke-width="0.4" text-anchor="end" letter-spacing="1.4">100</text>
<text x="2.2" y="372.5" font-family="Liberation Sans" font-size="21" fill="#333" stroke="#333" stroke-width="0.4" text-anchor="middle" letter-spacing="1.4">-40</text>
<text x="88.0" y="372.5" font-family="Liberation Sans" font-size="21" fill="#333" stroke="#333" stroke-width="0.4" text-anchor="middle" letter-spacing="1.4">-20</text>
<text x="173.8" y="372.5" font-family="Liberation Sans" font-size="21" fill="#333" stroke="#333" stroke-width="0.4" text-anchor="middle" letter-spacing="1.4">0</text>
<text x="259.6" y="372.5" font-family="Liberation Sans" font-size="21" fill="#333" stroke="#333" stroke-width="0.4" text-anchor="middle" letter-spacing="1.4">20</text>
<text x="345.5" y="372.5" font-family="Liberation Sans" font-size="21" fill="#333" stroke="#333" stroke-width="0.4" text-anchor="middle" letter-spacing="1.4">40</text>
<text x="431.3" y="372.5" font-family="Liberation Sans" font-size="21" fill="#333" stroke="#333" stroke-width="0.4" text-anchor="middle" letter-spacing="1.4">60</text>
<text x="517.1" y="372.5" font-family="Liberation Sans" font-size="21" fill="#333" stroke="#333" stroke-width="0.4" text-anchor="middle" letter-spacing="1.4">80</text>
<text x="602.9" y="372.5" font-family="Liberation Sans" font-size="21" fill="#333" stroke="#333" stroke-width="0.4" text-anchor="middle" letter-spacing="1.4">100</text>
<text x="654.4" y="370.5" font-family="Liberation Sans" font-size="21" fill="#333" stroke="#333" stroke-width="0.4" text-anchor="middle" letter-spacing="1.4">110</text>
<text x="323" y="415.0" font-family="Liberation Sans" font-size="21.5" fill="#333" stroke="#333" stroke-width="0.5" text-anchor="middle" letter-spacing="1.3">Ambient Temperature °C</text>
<text transform="translate(-85,186) rotate(-90)" x="0" y="0" font-family="Liberation Sans" font-size="18" fill="#333" stroke="#333" stroke-width="0.4" text-anchor="middle" letter-spacing="0.8">Output Power (%)</text>
</g>
</svg>
<div style="position:absolute;left:471.5px;top:206.5px;font-size:77px;line-height:77px;font-weight:bold;font-style:normal;color:#1a8ad2;white-space:nowrap;transform-origin:0 0;transform:scaleX(1.033);-webkit-text-stroke:1.6px #1a8ad2;">MINMAX</div>
<div style="position:absolute;left:1850.5px;top:212.5px;font-size:57px;line-height:57px;font-weight:normal;font-style:normal;color:#000;white-space:nowrap;transform-origin:0 0;transform:scaleX(0.851);-webkit-text-stroke:0.9px #000;">MJWI25 SERIES</div>
<div style="position:absolute;left:1510.5px;top:287.2px;font-size:36px;line-height:36px;font-weight:normal;font-style:normal;color:#000;white-space:nowrap;transform-origin:0 0;transform:scaleX(0.852);-webkit-text-stroke:1.1px #000;">DC-DC CONVERTER 25W</div>
<div style="position:absolute;left:1883.5px;top:287.2px;font-size:36px;line-height:36px;font-weight:normal;font-style:normal;color:#000;white-space:nowrap;transform-origin:0 0;transform:scaleX(0.846);-webkit-text-stroke:0.3px #000;">, Highest Power Density</div>
<div style="position:absolute;left:250.5px;top:381.3px;font-size:40.5px;line-height:40.5px;font-weight:normal;font-style:normal;color:#000;white-space:nowrap;transform-origin:0 0;transform:scaleX(0.904);-webkit-text-stroke:0.2px #000;">Power Derating Curve</div>
<div style="position:absolute;left:234.5px;width:1000px;top:974.9px;text-align:center;font-size:32px;line-height:32px;white-space:nowrap;transform:scaleX(0.854);">MJWI25-48S033 Derating Curve without Heatsink</div>
<div style="position:absolute;left:1244.5px;width:1000px;top:974.9px;text-align:center;font-size:32px;line-height:32px;white-space:nowrap;transform:scaleX(0.854);">MJWI25-48S033 Derating Curve with Heatsink</div>
<div style="position:absolute;left:234.5px;width:1000px;top:1559.4px;text-align:center;font-size:32px;line-height:32px;white-space:nowrap;transform:scaleX(0.854);">MJWI25-24S15,MJWI25-48S05, MJWI25-48S12, MJWI25-48S15</div>
<div style="position:absolute;left:234.5px;width:1000px;top:1601.9px;text-align:center;font-size:32px;line-height:32px;white-space:nowrap;transform:scaleX(0.854);">Derating Curve without Heatsink</div>
<div style="position:absolute;left:1244.5px;width:1000px;top:1559.4px;text-align:center;font-size:32px;line-height:32px;white-space:nowrap;transform:scaleX(0.854);">MJWI25-24S15,MJWI25-48S05, MJWI25-48S12, MJWI25-48S15</div>
<div style="position:absolute;left:1244.5px;width:1000px;top:1601.9px;text-align:center;font-size:32px;line-height:32px;white-space:nowrap;transform:scaleX(0.854);">Derating Curve with Heatsink</div>
<div style="position:absolute;left:234.5px;width:1000px;top:2187.4px;text-align:center;font-size:32px;line-height:32px;white-space:nowrap;transform:scaleX(0.854);">MJWI25-24S033 Derating Curve without Heatsink</div>
<div style="position:absolute;left:1244.5px;width:1000px;top:2187.4px;text-align:center;font-size:32px;line-height:32px;white-space:nowrap;transform:scaleX(0.854);">MJWI25-24S033 Derating Curve with Heatsink</div>
<div style="position:absolute;left:234.5px;width:1000px;top:2770.6px;text-align:center;font-size:32px;line-height:32px;white-space:nowrap;transform:scaleX(0.854);">MJWI25-24S05, MJWI25-24S12, MJWI25-24D12</div>
<div style="position:absolute;left:234.5px;width:1000px;top:2812.5px;text-align:center;font-size:32px;line-height:32px;white-space:nowrap;transform:scaleX(0.854);">MJWI25-24D15, MJWI25-48D12, MJWI25-48D15</div>
<div style="position:absolute;left:234.5px;width:1000px;top:2854.4px;text-align:center;font-size:32px;line-height:32px;white-space:nowrap;transform:scaleX(0.854);">Derating Curve without Heatsink</div>
<div style="position:absolute;left:1244.5px;width:1000px;top:2770.6px;text-align:center;font-size:32px;line-height:32px;white-space:nowrap;transform:scaleX(0.854);">MJWI25-24S05, MJWI25-24S12, MJWI25-24D12</div>
<div style="position:absolute;left:1244.5px;width:1000px;top:2812.5px;text-align:center;font-size:32px;line-height:32px;white-space:nowrap;transform:scaleX(0.854);">MJWI25-24D15, MJWI25-48D12, MJWI25-48D15</div>
<div style="position:absolute;left:1244.5px;width:1000px;top:2854.4px;text-align:center;font-size:32px;line-height:32px;white-space:nowrap;transform:scaleX(0.854);">Derating Curve with Heatsink</div>
<div style="position:absolute;left:236.7px;top:3186.1px;font-size:32.4px;line-height:32.4px;font-weight:normal;font-style:normal;color:#000;white-space:nowrap;transform-origin:0 0;transform:scaleX(1.023);">E-mail:sales@minmax.com.tw</div>
<div style="position:absolute;left:732.0px;top:3186.1px;font-size:32.4px;line-height:32.4px;font-weight:normal;font-style:normal;color:#000;white-space:nowrap;transform-origin:0 0;transform:scaleX(1.03);">Tel:886-6-2923150</div>
<div style="position:absolute;left:236.7px;top:3257.2px;font-size:35px;line-height:35px;font-weight:normal;font-style:normal;color:#000;white-space:nowrap;transform-origin:0 0;transform:scaleX(1.177);">2019/06/26</div>
<div style="position:absolute;left:483.0px;top:3257.2px;font-size:35px;line-height:35px;font-weight:normal;font-style:normal;color:#000;white-space:nowrap;transform-origin:0 0;transform:scaleX(0.935);">REV:8</div>
<div style="position:absolute;left:632.0px;top:3257.2px;font-size:35px;line-height:35px;font-weight:normal;font-style:normal;color:#000;white-space:nowrap;transform-origin:0 0;transform:scaleX(0.96);">Page</div>
<div style="position:absolute;left:729.5px;top:3257.2px;font-size:35px;line-height:35px;font-weight:normal;font-style:normal;color:#000;white-space:nowrap;transform-origin:0 0;">4</div>
<div style="position:absolute;left:770.0px;top:3257.2px;font-size:35px;line-height:35px;font-weight:normal;font-style:normal;color:#000;white-space:nowrap;transform-origin:0 0;">of</div>
<div style="position:absolute;left:819.0px;top:3257.2px;font-size:35px;line-height:35px;font-weight:normal;font-style:normal;color:#000;white-space:nowrap;transform-origin:0 0;">8</div>
<div style="position:absolute;left:1628.8px;top:3219.9px;font-size:58px;line-height:58px;font-weight:normal;font-style:italic;color:#2378ae;white-space:nowrap;transform-origin:0 0;-webkit-text-stroke:1px #2378ae;">www.minmax.com.tw</div>
</body></html>
